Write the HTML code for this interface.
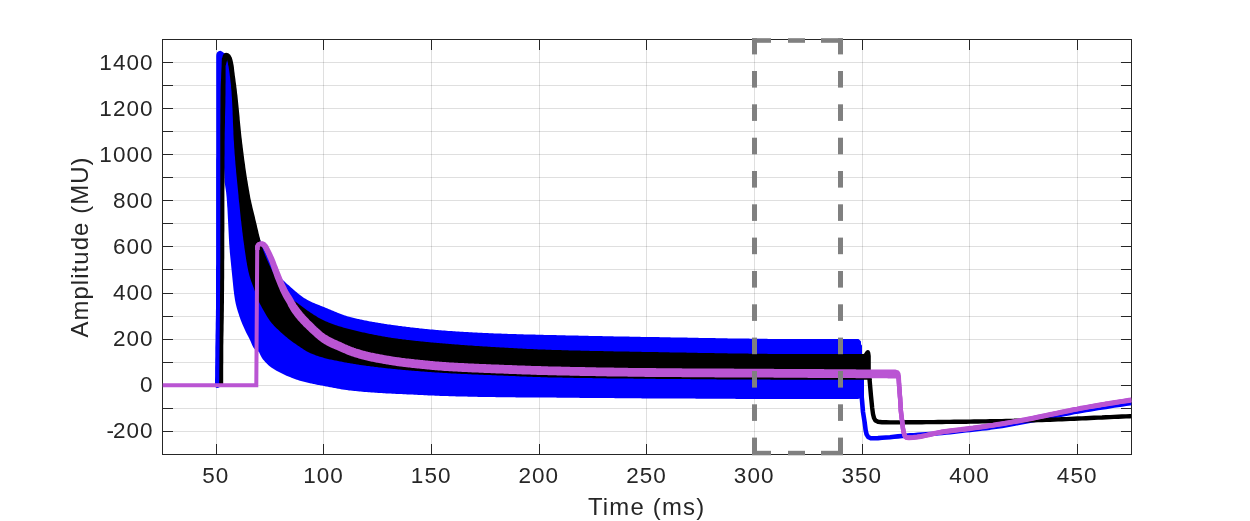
<!DOCTYPE html>
<html><head><meta charset="utf-8"><title>chart</title>
<style>
html,body{margin:0;padding:0;background:#fff;}
body{width:1250px;height:521px;position:relative;overflow:hidden;font-family:"Liberation Sans",sans-serif;color:#262626;}
.yt{position:absolute;left:40px;width:113.6px;height:30px;line-height:30px;text-align:right;font-size:22.5px;letter-spacing:1.05px;white-space:nowrap;}
.xt{position:absolute;top:460.8px;width:100px;height:30px;line-height:30px;text-align:center;font-size:22.5px;letter-spacing:1.05px;text-indent:1.05px;white-space:nowrap;}
.xl{position:absolute;left:446.6px;top:492px;width:400px;height:30px;line-height:30px;text-align:center;font-size:23.9px;letter-spacing:1.2px;white-space:nowrap;}
.yl{position:absolute;left:-120px;top:231.8px;width:400px;height:30px;line-height:30px;text-align:center;font-size:23.9px;letter-spacing:1.08px;white-space:nowrap;transform:rotate(-90deg);transform-origin:50% 50%;}
</style></head><body>
<svg width="1250" height="521" viewBox="0 0 1250 521" style="position:absolute;left:0;top:0">
<rect width="1250" height="521" fill="#fff"/>
<g fill="#262626" fill-opacity="0.15"><rect x="163" y="431" width="968" height="1"/><rect x="163" y="408" width="968" height="1"/><rect x="163" y="385" width="968" height="1"/><rect x="163" y="362" width="968" height="1"/><rect x="163" y="339" width="968" height="1"/><rect x="163" y="316" width="968" height="1"/><rect x="163" y="293" width="968" height="1"/><rect x="163" y="269" width="968" height="1"/><rect x="163" y="246" width="968" height="1"/><rect x="163" y="223" width="968" height="1"/><rect x="163" y="200" width="968" height="1"/><rect x="163" y="177" width="968" height="1"/><rect x="163" y="154" width="968" height="1"/><rect x="163" y="131" width="968" height="1"/><rect x="163" y="108" width="968" height="1"/><rect x="163" y="85" width="968" height="1"/><rect x="163" y="62" width="968" height="1"/><rect x="216" y="40" width="1" height="414"/><rect x="323" y="40" width="1" height="414"/><rect x="431" y="40" width="1" height="414"/><rect x="539" y="40" width="1" height="414"/><rect x="646" y="40" width="1" height="414"/><rect x="754" y="40" width="1" height="414"/><rect x="862" y="40" width="1" height="414"/><rect x="969" y="40" width="1" height="414"/><rect x="1077" y="40" width="1" height="414"/></g>
<g fill="#262626"><rect x="162" y="39" width="970" height="1"/><rect x="162" y="454" width="970" height="1"/><rect x="162" y="39" width="1" height="416"/><rect x="1131" y="39" width="1" height="416"/><rect x="162" y="431" width="11" height="1"/><rect x="1121" y="431" width="11" height="1"/><rect x="162" y="408" width="11" height="1"/><rect x="1121" y="408" width="11" height="1"/><rect x="162" y="385" width="11" height="1"/><rect x="1121" y="385" width="11" height="1"/><rect x="162" y="362" width="11" height="1"/><rect x="1121" y="362" width="11" height="1"/><rect x="162" y="339" width="11" height="1"/><rect x="1121" y="339" width="11" height="1"/><rect x="162" y="316" width="11" height="1"/><rect x="1121" y="316" width="11" height="1"/><rect x="162" y="293" width="11" height="1"/><rect x="1121" y="293" width="11" height="1"/><rect x="162" y="269" width="11" height="1"/><rect x="1121" y="269" width="11" height="1"/><rect x="162" y="246" width="11" height="1"/><rect x="1121" y="246" width="11" height="1"/><rect x="162" y="223" width="11" height="1"/><rect x="1121" y="223" width="11" height="1"/><rect x="162" y="200" width="11" height="1"/><rect x="1121" y="200" width="11" height="1"/><rect x="162" y="177" width="11" height="1"/><rect x="1121" y="177" width="11" height="1"/><rect x="162" y="154" width="11" height="1"/><rect x="1121" y="154" width="11" height="1"/><rect x="162" y="131" width="11" height="1"/><rect x="1121" y="131" width="11" height="1"/><rect x="162" y="108" width="11" height="1"/><rect x="1121" y="108" width="11" height="1"/><rect x="162" y="85" width="11" height="1"/><rect x="1121" y="85" width="11" height="1"/><rect x="162" y="62" width="11" height="1"/><rect x="1121" y="62" width="11" height="1"/><rect x="216" y="39" width="1" height="11"/><rect x="216" y="444" width="1" height="11"/><rect x="323" y="39" width="1" height="11"/><rect x="323" y="444" width="1" height="11"/><rect x="431" y="39" width="1" height="11"/><rect x="431" y="444" width="1" height="11"/><rect x="539" y="39" width="1" height="11"/><rect x="539" y="444" width="1" height="11"/><rect x="646" y="39" width="1" height="11"/><rect x="646" y="444" width="1" height="11"/><rect x="754" y="39" width="1" height="11"/><rect x="754" y="444" width="1" height="11"/><rect x="862" y="39" width="1" height="11"/><rect x="862" y="444" width="1" height="11"/><rect x="969" y="39" width="1" height="11"/><rect x="969" y="444" width="1" height="11"/><rect x="1077" y="39" width="1" height="11"/><rect x="1077" y="444" width="1" height="11"/></g>
<clipPath id="c"><rect x="162.5" y="37" width="969" height="419"/></clipPath>
<g clip-path="url(#c)">
<polygon fill="#0000ff" points="215.0,386.0 215.0,384.0 215.0,380.0 215.1,376.0 215.1,372.0 215.1,368.0 215.2,364.0 215.2,360.0 215.3,356.0 215.3,352.0 215.3,348.0 215.4,344.0 215.5,340.0 215.5,336.0 215.6,332.0 215.7,328.0 215.7,324.0 215.8,320.0 215.9,316.0 215.9,312.0 216.0,308.0 216.0,304.0 216.0,300.0 216.0,296.0 216.0,292.0 216.0,288.0 216.0,284.0 216.0,280.0 216.0,276.0 216.0,272.0 216.0,268.0 216.1,264.0 216.1,260.0 216.1,256.0 216.1,252.0 216.1,248.0 216.1,244.0 216.1,240.0 216.1,236.0 216.1,232.0 216.1,228.0 216.1,224.0 216.1,220.0 216.1,216.0 216.1,212.0 216.1,208.0 216.1,204.0 216.1,200.0 216.1,196.0 216.1,192.0 216.1,188.0 216.1,184.0 216.1,180.0 216.1,176.0 216.1,172.0 216.1,168.0 216.1,164.0 216.1,160.0 216.2,156.0 216.2,152.0 216.2,148.0 216.2,144.0 216.2,140.0 216.2,136.0 216.2,132.0 216.2,128.0 216.2,124.0 216.2,120.0 216.2,116.0 216.2,112.0 216.2,108.0 216.2,104.0 216.2,100.0 216.2,96.0 216.2,92.0 216.2,88.0 216.2,84.0 216.2,80.0 216.2,76.0 216.2,72.0 216.2,68.0 216.2,64.0 216.2,60.0 216.2,56.0 216.4,54.0 217.2,52.2 218.6,51.2 220.3,50.8 222.0,51.4 224.0,53.0 224.0,60.0 224.0,182.0 222.0,386.0 219.3,387.2 218.0,388.0 216.6,388.0 215.6,387.2 215.0,386.0"/>
<polygon fill="#0000ff" points="222.0,53.0 224.0,53.0 225.0,53.4 226.0,54.4 227.0,55.9 228.0,57.8 229.0,60.0 230.0,63.4 231.0,68.8 232.0,75.4 233.0,82.7 234.0,90.0 235.0,97.9 236.0,106.9 237.0,116.5 238.0,126.2 239.0,135.5 240.0,144.0 241.0,151.9 242.0,159.6 243.0,167.2 244.0,174.5 245.0,181.4 246.0,187.7 247.0,193.4 248.0,198.4 249.0,203.0 250.0,207.2 251.0,211.2 252.0,214.9 253.0,218.4 254.0,221.7 255.0,225.0 256.0,228.2 257.0,231.2 258.0,234.1 259.0,236.9 260.0,239.6 261.0,242.2 262.0,244.7 263.0,247.0 264.0,249.2 265.0,251.1 266.0,253.1 267.0,255.0 268.0,257.0 269.0,259.1 270.0,261.1 271.0,262.9 272.0,264.6 273.0,266.3 274.0,267.9 275.0,269.5 276.0,271.0 277.0,272.6 278.0,274.0 279.0,275.5 280.0,276.8 281.0,278.0 282.0,279.1 283.0,280.2 284.0,281.1 285.0,282.1 286.0,283.0 287.0,283.9 288.0,284.7 289.0,285.6 290.0,286.5 291.0,287.4 292.0,288.3 293.0,289.2 294.0,290.1 295.0,290.9 296.0,291.8 297.0,292.6 298.0,293.5 299.0,294.2 300.0,295.0 301.0,295.7 302.0,296.5 303.0,297.2 304.0,297.9 305.0,298.5 306.0,299.1 307.0,299.7 308.0,300.3 309.0,300.8 310.0,301.3 311.0,301.8 312.0,302.2 313.0,302.7 314.0,303.1 315.0,303.5 316.0,303.9 317.0,304.3 318.0,304.7 319.0,305.1 320.0,305.5 321.0,305.9 322.0,306.3 323.0,306.7 324.0,307.1 325.0,307.5 326.0,307.9 327.0,308.3 328.0,308.7 329.0,309.2 330.0,309.6 331.0,310.0 332.0,310.4 333.0,310.8 334.0,311.3 335.0,311.7 336.0,312.1 337.0,312.5 338.0,312.9 339.0,313.3 340.0,313.7 341.0,314.1 342.0,314.5 343.0,314.8 344.0,315.2 345.0,315.5 346.0,315.8 347.0,316.2 348.0,316.5 349.0,316.7 350.0,317.0 351.0,317.3 352.0,317.5 353.0,317.7 354.0,318.0 355.0,318.2 356.0,318.5 357.0,318.7 358.0,318.9 359.0,319.1 360.0,319.4 361.0,319.6 362.0,319.8 363.0,320.0 364.0,320.2 365.0,320.4 366.0,320.6 367.0,320.8 368.0,321.0 369.0,321.2 370.0,321.4 371.0,321.6 372.0,321.8 373.0,321.9 374.0,322.1 375.0,322.3 376.0,322.5 377.0,322.6 378.0,322.8 379.0,323.0 380.0,323.1 381.0,323.3 382.0,323.4 383.0,323.6 384.0,323.8 385.0,323.9 386.0,324.1 387.0,324.2 388.0,324.4 389.0,324.5 390.0,324.6 391.0,324.8 392.0,324.9 393.0,325.1 394.0,325.2 395.0,325.3 396.0,325.5 397.0,325.6 398.0,325.7 399.0,325.9 400.0,326.0 401.0,326.1 402.0,326.3 403.0,326.4 404.0,326.5 405.0,326.6 406.0,326.8 407.0,326.9 408.0,327.0 409.0,327.1 410.0,327.2 411.0,327.4 412.0,327.5 413.0,327.6 414.0,327.7 415.0,327.8 416.0,327.9 417.0,328.0 418.0,328.1 419.0,328.3 420.0,328.4 421.0,328.5 422.0,328.6 423.0,328.7 424.0,328.8 425.0,328.9 426.0,329.0 427.0,329.1 428.0,329.2 429.0,329.3 430.0,329.4 431.0,329.5 432.0,329.6 433.0,329.6 434.0,329.7 435.0,329.8 436.0,329.9 437.0,330.0 438.0,330.1 439.0,330.2 440.0,330.2 441.0,330.3 442.0,330.4 443.0,330.5 444.0,330.6 445.0,330.6 446.0,330.7 447.0,330.8 448.0,330.9 449.0,330.9 450.0,331.0 451.0,331.1 452.0,331.1 453.0,331.2 454.0,331.3 455.0,331.3 456.0,331.4 457.0,331.5 458.0,331.5 459.0,331.6 460.0,331.7 461.0,331.7 462.0,331.8 463.0,331.8 464.0,331.9 465.0,331.9 466.0,332.0 467.0,332.1 468.0,332.1 469.0,332.2 470.0,332.2 471.0,332.3 472.0,332.3 473.0,332.4 474.0,332.4 475.0,332.5 476.0,332.6 477.0,332.6 478.0,332.7 479.0,332.7 480.0,332.8 481.0,332.8 482.0,332.8 483.0,332.9 484.0,332.9 485.0,333.0 486.0,333.0 487.0,333.1 488.0,333.1 489.0,333.2 490.0,333.2 491.0,333.2 492.0,333.3 493.0,333.3 494.0,333.4 495.0,333.4 496.0,333.4 497.0,333.5 498.0,333.5 499.0,333.6 500.0,333.6 501.0,333.6 502.0,333.7 503.0,333.7 504.0,333.7 505.0,333.8 506.0,333.8 507.0,333.8 508.0,333.9 509.0,333.9 510.0,333.9 511.0,334.0 512.0,334.0 513.0,334.0 514.0,334.1 515.0,334.1 516.0,334.1 517.0,334.2 518.0,334.2 519.0,334.2 520.0,334.2 521.0,334.3 522.0,334.3 523.0,334.3 524.0,334.4 525.0,334.4 526.0,334.4 527.0,334.4 528.0,334.5 529.0,334.5 530.0,334.5 531.0,334.5 532.0,334.6 533.0,334.6 534.0,334.6 535.0,334.6 536.0,334.7 537.0,334.7 538.0,334.7 539.0,334.7 540.0,334.8 541.0,334.8 542.0,334.8 543.0,334.8 544.0,334.9 545.0,334.9 546.0,334.9 547.0,334.9 548.0,335.0 549.0,335.0 550.0,335.0 551.0,335.0 552.0,335.0 553.0,335.1 554.0,335.1 555.0,335.1 556.0,335.1 557.0,335.2 558.0,335.2 559.0,335.2 560.0,335.2 561.0,335.3 562.0,335.3 563.0,335.3 564.0,335.3 565.0,335.3 566.0,335.4 567.0,335.4 568.0,335.4 569.0,335.4 570.0,335.5 571.0,335.5 572.0,335.5 573.0,335.5 574.0,335.5 575.0,335.6 576.0,335.6 577.0,335.6 578.0,335.6 579.0,335.7 580.0,335.7 581.0,335.7 582.0,335.7 583.0,335.7 584.0,335.8 585.0,335.8 586.0,335.8 587.0,335.8 588.0,335.8 589.0,335.9 590.0,335.9 591.0,335.9 592.0,335.9 593.0,336.0 594.0,336.0 595.0,336.0 596.0,336.0 597.0,336.0 598.0,336.1 599.0,336.1 600.0,336.1 601.0,336.1 602.0,336.1 603.0,336.2 604.0,336.2 605.0,336.2 606.0,336.2 607.0,336.2 608.0,336.3 609.0,336.3 610.0,336.3 611.0,336.3 612.0,336.3 613.0,336.3 614.0,336.4 615.0,336.4 616.0,336.4 617.0,336.4 618.0,336.4 619.0,336.5 620.0,336.5 621.0,336.5 622.0,336.5 623.0,336.5 624.0,336.6 625.0,336.6 626.0,336.6 627.0,336.6 628.0,336.6 629.0,336.6 630.0,336.7 631.0,336.7 632.0,336.7 633.0,336.7 634.0,336.7 635.0,336.7 636.0,336.8 637.0,336.8 638.0,336.8 639.0,336.8 640.0,336.8 641.0,336.9 642.0,336.9 643.0,336.9 644.0,336.9 645.0,336.9 646.0,336.9 647.0,337.0 648.0,337.0 649.0,337.0 650.0,337.0 651.0,337.0 652.0,337.0 653.0,337.0 654.0,337.1 655.0,337.1 656.0,337.1 657.0,337.1 658.0,337.1 659.0,337.1 660.0,337.2 661.0,337.2 662.0,337.2 663.0,337.2 664.0,337.2 665.0,337.3 666.0,337.3 667.0,337.3 668.0,337.3 669.0,337.3 670.0,337.3 671.0,337.4 672.0,337.4 673.0,337.4 674.0,337.4 675.0,337.4 676.0,337.4 677.0,337.5 678.0,337.5 679.0,337.5 680.0,337.5 681.0,337.5 682.0,337.6 683.0,337.6 684.0,337.6 685.0,337.6 686.0,337.6 687.0,337.6 688.0,337.7 689.0,337.7 690.0,337.7 691.0,337.7 692.0,337.7 693.0,337.8 694.0,337.8 695.0,337.8 696.0,337.8 697.0,337.8 698.0,337.8 699.0,337.9 700.0,337.9 701.0,337.9 702.0,337.9 703.0,337.9 704.0,337.9 705.0,338.0 706.0,338.0 707.0,338.0 708.0,338.0 709.0,338.0 710.0,338.1 711.0,338.1 712.0,338.1 713.0,338.1 714.0,338.1 715.0,338.1 716.0,338.2 717.0,338.2 718.0,338.2 719.0,338.2 720.0,338.2 721.0,338.2 722.0,338.3 723.0,338.3 724.0,338.3 725.0,338.3 726.0,338.3 727.0,338.3 728.0,338.4 729.0,338.4 730.0,338.4 731.0,338.4 732.0,338.4 733.0,338.4 734.0,338.4 735.0,338.5 736.0,338.5 737.0,338.5 738.0,338.5 739.0,338.5 740.0,338.5 741.0,338.5 742.0,338.6 743.0,338.6 744.0,338.6 745.0,338.6 746.0,338.6 747.0,338.6 748.0,338.6 749.0,338.6 750.0,338.7 751.0,338.7 752.0,338.7 753.0,338.7 754.0,338.7 755.0,338.7 756.0,338.7 757.0,338.7 758.0,338.8 759.0,338.8 760.0,338.8 761.0,338.8 762.0,338.8 763.0,338.8 764.0,338.8 765.0,338.8 766.0,338.8 767.0,338.8 768.0,338.9 769.0,338.9 770.0,338.9 771.0,338.9 772.0,338.9 773.0,338.9 774.0,338.9 775.0,338.9 776.0,338.9 777.0,338.9 778.0,338.9 779.0,338.9 780.0,338.9 781.0,338.9 782.0,339.0 783.0,339.0 784.0,339.0 785.0,339.0 786.0,339.0 787.0,339.0 788.0,339.0 789.0,339.0 790.0,339.0 791.0,339.0 792.0,339.0 793.0,339.0 794.0,339.0 795.0,339.0 796.0,339.0 797.0,339.0 798.0,339.0 799.0,339.0 800.0,339.0 801.0,339.0 802.0,339.0 803.0,339.0 804.0,339.0 805.0,339.0 806.0,339.0 807.0,339.0 808.0,339.0 809.0,339.0 810.0,339.0 811.0,339.0 812.0,339.0 813.0,339.0 814.0,339.0 815.0,339.0 816.0,339.0 817.0,339.0 818.0,339.0 819.0,339.0 820.0,339.0 821.0,339.0 822.0,339.0 823.0,339.0 824.0,339.0 825.0,339.0 826.0,339.0 827.0,339.0 828.0,339.0 829.0,339.0 830.0,339.0 831.0,339.0 832.0,339.0 833.0,339.0 834.0,339.0 835.0,339.0 836.0,339.0 837.0,339.0 838.0,339.0 839.0,339.0 840.0,339.0 841.0,339.0 842.0,339.0 843.0,339.0 844.0,339.0 845.0,339.0 846.0,339.0 847.0,339.0 848.0,339.0 849.0,339.0 850.0,339.0 851.0,339.0 852.0,339.0 853.0,339.0 854.0,339.0 855.0,339.0 856.0,339.0 857.0,339.0 858.0,339.0 858.5,339.0 860.9,341.3 861.1,344.6 862.0,345.6 862.0,354.0 864.0,366.0 864.0,397.0 858.0,399.0 855.0,399.0 854.0,399.0 853.0,399.0 852.0,399.0 851.0,399.0 850.0,399.0 849.0,399.0 848.0,399.0 847.0,399.0 846.0,399.0 845.0,399.0 844.0,399.0 843.0,399.0 842.0,399.0 841.0,399.0 840.0,399.0 839.0,399.0 838.0,399.0 837.0,399.0 836.0,399.0 835.0,399.0 834.0,399.0 833.0,399.0 832.0,399.0 831.0,399.0 830.0,399.0 829.0,399.0 828.0,399.0 827.0,399.0 826.0,399.0 825.0,399.0 824.0,399.0 823.0,399.0 822.0,399.0 821.0,399.0 820.0,399.0 819.0,399.0 818.0,399.0 817.0,399.0 816.0,399.0 815.0,399.0 814.0,399.0 813.0,399.0 812.0,399.0 811.0,399.0 810.0,399.0 809.0,399.0 808.0,399.0 807.0,399.0 806.0,399.0 805.0,399.0 804.0,399.0 803.0,399.0 802.0,399.0 801.0,399.0 800.0,399.0 799.0,399.0 798.0,399.0 797.0,399.0 796.0,399.0 795.0,399.0 794.0,399.0 793.0,399.0 792.0,399.0 791.0,399.0 790.0,399.0 789.0,399.0 788.0,399.0 787.0,399.0 786.0,399.0 785.0,399.0 784.0,399.0 783.0,399.0 782.0,399.0 781.0,399.0 780.0,399.0 779.0,399.0 778.0,399.0 777.0,399.0 776.0,399.0 775.0,399.0 774.0,399.0 773.0,399.0 772.0,399.0 771.0,399.0 770.0,399.0 769.0,399.0 768.0,399.0 767.0,399.0 766.0,399.0 765.0,399.0 764.0,398.9 763.0,398.9 762.0,398.9 761.0,398.9 760.0,398.9 759.0,398.9 758.0,398.9 757.0,398.9 756.0,398.9 755.0,398.9 754.0,398.9 753.0,398.9 752.0,398.9 751.0,398.9 750.0,398.9 749.0,398.9 748.0,398.9 747.0,398.9 746.0,398.9 745.0,398.9 744.0,398.9 743.0,398.9 742.0,398.9 741.0,398.9 740.0,398.9 739.0,398.9 738.0,398.9 737.0,398.9 736.0,398.9 735.0,398.8 734.0,398.8 733.0,398.8 732.0,398.8 731.0,398.8 730.0,398.8 729.0,398.8 728.0,398.8 727.0,398.8 726.0,398.8 725.0,398.8 724.0,398.8 723.0,398.8 722.0,398.8 721.0,398.8 720.0,398.8 719.0,398.8 718.0,398.8 717.0,398.8 716.0,398.8 715.0,398.8 714.0,398.7 713.0,398.7 712.0,398.7 711.0,398.7 710.0,398.7 709.0,398.7 708.0,398.7 707.0,398.7 706.0,398.7 705.0,398.7 704.0,398.7 703.0,398.7 702.0,398.7 701.0,398.7 700.0,398.7 699.0,398.7 698.0,398.7 697.0,398.7 696.0,398.7 695.0,398.6 694.0,398.6 693.0,398.6 692.0,398.6 691.0,398.6 690.0,398.6 689.0,398.6 688.0,398.6 687.0,398.6 686.0,398.6 685.0,398.6 684.0,398.6 683.0,398.6 682.0,398.6 681.0,398.6 680.0,398.6 679.0,398.6 678.0,398.6 677.0,398.6 676.0,398.5 675.0,398.5 674.0,398.5 673.0,398.5 672.0,398.5 671.0,398.5 670.0,398.5 669.0,398.5 668.0,398.5 667.0,398.5 666.0,398.5 665.0,398.5 664.0,398.5 663.0,398.5 662.0,398.5 661.0,398.5 660.0,398.5 659.0,398.4 658.0,398.4 657.0,398.4 656.0,398.4 655.0,398.4 654.0,398.4 653.0,398.4 652.0,398.4 651.0,398.4 650.0,398.4 649.0,398.4 648.0,398.4 647.0,398.4 646.0,398.4 645.0,398.4 644.0,398.4 643.0,398.4 642.0,398.4 641.0,398.3 640.0,398.3 639.0,398.3 638.0,398.3 637.0,398.3 636.0,398.3 635.0,398.3 634.0,398.3 633.0,398.3 632.0,398.3 631.0,398.3 630.0,398.3 629.0,398.3 628.0,398.3 627.0,398.3 626.0,398.2 625.0,398.2 624.0,398.2 623.0,398.2 622.0,398.2 621.0,398.2 620.0,398.2 619.0,398.2 618.0,398.2 617.0,398.2 616.0,398.2 615.0,398.2 614.0,398.1 613.0,398.1 612.0,398.1 611.0,398.1 610.0,398.1 609.0,398.1 608.0,398.1 607.0,398.1 606.0,398.1 605.0,398.1 604.0,398.1 603.0,398.1 602.0,398.0 601.0,398.0 600.0,398.0 599.0,398.0 598.0,398.0 597.0,398.0 596.0,398.0 595.0,398.0 594.0,398.0 593.0,398.0 592.0,398.0 591.0,398.0 590.0,397.9 589.0,397.9 588.0,397.9 587.0,397.9 586.0,397.9 585.0,397.9 584.0,397.9 583.0,397.9 582.0,397.9 581.0,397.9 580.0,397.9 579.0,397.8 578.0,397.8 577.0,397.8 576.0,397.8 575.0,397.8 574.0,397.8 573.0,397.8 572.0,397.8 571.0,397.8 570.0,397.8 569.0,397.8 568.0,397.8 567.0,397.7 566.0,397.7 565.0,397.7 564.0,397.7 563.0,397.7 562.0,397.7 561.0,397.7 560.0,397.7 559.0,397.7 558.0,397.7 557.0,397.7 556.0,397.6 555.0,397.6 554.0,397.6 553.0,397.6 552.0,397.6 551.0,397.6 550.0,397.6 549.0,397.6 548.0,397.6 547.0,397.6 546.0,397.6 545.0,397.6 544.0,397.6 543.0,397.5 542.0,397.5 541.0,397.5 540.0,397.5 539.0,397.5 538.0,397.5 537.0,397.5 536.0,397.5 535.0,397.5 534.0,397.5 533.0,397.5 532.0,397.5 531.0,397.5 530.0,397.5 529.0,397.4 528.0,397.4 527.0,397.4 526.0,397.4 525.0,397.4 524.0,397.4 523.0,397.4 522.0,397.4 521.0,397.4 520.0,397.4 519.0,397.4 518.0,397.4 517.0,397.4 516.0,397.4 515.0,397.3 514.0,397.3 513.0,397.3 512.0,397.3 511.0,397.3 510.0,397.3 509.0,397.3 508.0,397.3 507.0,397.3 506.0,397.3 505.0,397.3 504.0,397.2 503.0,397.2 502.0,397.2 501.0,397.2 500.0,397.2 499.0,397.2 498.0,397.2 497.0,397.2 496.0,397.2 495.0,397.1 494.0,397.1 493.0,397.1 492.0,397.1 491.0,397.1 490.0,397.1 489.0,397.1 488.0,397.0 487.0,397.0 486.0,397.0 485.0,397.0 484.0,397.0 483.0,397.0 482.0,396.9 481.0,396.9 480.0,396.9 479.0,396.9 478.0,396.9 477.0,396.8 476.0,396.8 475.0,396.8 474.0,396.8 473.0,396.8 472.0,396.7 471.0,396.7 470.0,396.7 469.0,396.7 468.0,396.7 467.0,396.6 466.0,396.6 465.0,396.6 464.0,396.6 463.0,396.5 462.0,396.5 461.0,396.5 460.0,396.5 459.0,396.4 458.0,396.4 457.0,396.4 456.0,396.4 455.0,396.3 454.0,396.3 453.0,396.3 452.0,396.3 451.0,396.2 450.0,396.2 449.0,396.2 448.0,396.1 447.0,396.1 446.0,396.1 445.0,396.0 444.0,396.0 443.0,396.0 442.0,395.9 441.0,395.9 440.0,395.9 439.0,395.8 438.0,395.8 437.0,395.7 436.0,395.7 435.0,395.7 434.0,395.6 433.0,395.6 432.0,395.5 431.0,395.5 430.0,395.4 429.0,395.4 428.0,395.4 427.0,395.3 426.0,395.3 425.0,395.2 424.0,395.2 423.0,395.1 422.0,395.1 421.0,395.0 420.0,395.0 419.0,394.9 418.0,394.9 417.0,394.8 416.0,394.8 415.0,394.7 414.0,394.7 413.0,394.6 412.0,394.6 411.0,394.5 410.0,394.5 409.0,394.5 408.0,394.4 407.0,394.4 406.0,394.3 405.0,394.3 404.0,394.2 403.0,394.2 402.0,394.1 401.0,394.1 400.0,394.0 399.0,394.0 398.0,394.0 397.0,393.9 396.0,393.9 395.0,393.8 394.0,393.8 393.0,393.7 392.0,393.7 391.0,393.6 390.0,393.6 389.0,393.5 388.0,393.5 387.0,393.4 386.0,393.4 385.0,393.3 384.0,393.2 383.0,393.2 382.0,393.1 381.0,393.1 380.0,393.0 379.0,392.9 378.0,392.9 377.0,392.8 376.0,392.7 375.0,392.7 374.0,392.6 373.0,392.5 372.0,392.5 371.0,392.4 370.0,392.3 369.0,392.3 368.0,392.2 367.0,392.1 366.0,392.0 365.0,391.9 364.0,391.9 363.0,391.8 362.0,391.7 361.0,391.6 360.0,391.5 359.0,391.4 358.0,391.3 357.0,391.2 356.0,391.1 355.0,391.0 354.0,390.9 353.0,390.8 352.0,390.7 351.0,390.6 350.0,390.5 349.0,390.4 348.0,390.3 347.0,390.1 346.0,390.0 345.0,389.8 344.0,389.7 343.0,389.5 342.0,389.4 341.0,389.2 340.0,389.0 339.0,388.8 338.0,388.7 337.0,388.5 336.0,388.3 335.0,388.1 334.0,387.9 333.0,387.7 332.0,387.5 331.0,387.3 330.0,387.2 329.0,387.0 328.0,386.8 327.0,386.6 326.0,386.4 325.0,386.2 324.0,386.0 323.0,385.8 322.0,385.6 321.0,385.4 320.0,385.3 319.0,385.1 318.0,384.9 317.0,384.7 316.0,384.5 315.0,384.3 314.0,384.1 313.0,383.9 312.0,383.6 311.0,383.4 310.0,383.2 309.0,383.0 308.0,382.7 307.0,382.5 306.0,382.3 305.0,382.0 304.0,381.8 303.0,381.5 302.0,381.3 301.0,381.0 300.0,380.7 299.0,380.4 298.0,380.1 297.0,379.7 296.0,379.4 295.0,379.0 294.0,378.7 293.0,378.3 292.0,377.9 291.0,377.5 290.0,377.1 289.0,376.7 288.0,376.3 287.0,375.9 286.0,375.4 285.0,375.0 284.0,374.5 283.0,374.1 282.0,373.6 281.0,373.1 280.0,372.6 279.0,372.1 278.0,371.5 277.0,371.0 276.0,370.4 275.0,369.8 274.0,369.2 273.0,368.6 272.0,367.9 271.0,367.2 270.0,366.5 269.0,365.7 268.0,364.8 267.0,363.8 266.0,362.8 265.0,361.7 264.0,360.6 263.0,359.4 262.0,358.0 261.0,356.3 260.0,354.3 259.0,352.0 259.0,352.0 255.6,350.0 253.7,348.0 252.6,346.0 251.7,344.0 250.9,342.0 250.0,340.0 249.0,338.0 248.0,336.0 246.9,334.0 245.9,332.0 245.0,330.0 244.1,328.0 243.2,326.0 242.3,324.0 241.5,322.0 240.7,320.0 240.0,318.0 239.3,316.0 238.7,314.0 238.0,312.0 237.4,310.0 236.8,308.0 236.3,306.0 235.8,304.0 235.4,302.0 235.0,300.0 234.7,298.0 234.4,296.0 234.1,294.0 233.9,292.0 233.6,290.0 233.4,288.0 233.2,286.0 233.0,284.0 232.8,282.0 232.6,280.0 232.4,278.0 232.2,276.0 232.0,274.0 231.8,272.0 231.6,270.0 231.4,268.0 231.2,266.0 231.0,264.0 230.8,262.0 230.6,260.0 230.4,258.0 230.2,256.0 230.0,254.0 229.8,252.0 229.7,250.0 229.5,248.0 229.4,246.0 229.2,244.0 229.1,242.0 229.0,240.0 228.9,238.0 228.8,236.0 228.7,234.0 228.6,232.0 228.5,230.0 228.4,228.0 228.3,226.0 228.2,224.0 228.1,222.0 228.0,220.0 227.9,218.0 227.8,216.0 227.7,214.0 227.6,212.0 227.5,210.0 227.4,208.0 227.2,206.0 227.1,204.0 227.0,202.0 226.8,200.0 226.7,198.0 226.5,196.0 226.3,194.0 226.1,192.0 225.8,190.0 225.5,188.0 225.2,186.0 224.9,184.0 224.6,182.0 224.6,182.0 222.0,120.0"/>
<polyline fill="none" stroke="#0000ff" stroke-width="4.6" stroke-linejoin="round" points="861.6,396.0 862.0,400.0 863.0,412.0 864.6,422.0 865.6,430.0 866.6,434.4 868.1,436.9 870.3,438.1 874.0,438.3 878.0,438.1 882.0,437.8 886.0,437.5 890.0,437.2 894.0,436.8 898.0,436.4 902.0,436.0 906.0,435.7 910.0,435.4 914.0,435.2 918.0,434.9 922.0,434.6 926.0,434.3 930.0,434.0 934.0,433.7 938.0,433.3 942.0,432.9 946.0,432.5 950.0,432.1 954.0,431.7 958.0,431.2 962.0,430.8 966.0,430.3 970.0,429.9 974.0,429.5 978.0,429.0 982.0,428.5 986.0,428.1 990.0,427.6 994.0,427.0 998.0,426.5 1002.0,425.9 1006.0,425.2 1010.0,424.5 1014.0,423.8 1018.0,423.0 1022.0,422.3 1026.0,421.5 1030.0,420.7 1034.0,420.0 1038.0,419.2 1042.0,418.4 1046.0,417.6 1050.0,416.8 1054.0,416.0 1058.0,415.2 1062.0,414.4 1066.0,413.7 1070.0,412.9 1074.0,412.1 1078.0,411.4 1082.0,410.7 1086.0,410.0 1090.0,409.4 1094.0,408.8 1098.0,408.1 1102.0,407.5 1106.0,406.9 1110.0,406.2 1114.0,405.6 1118.0,405.0 1122.0,404.4 1126.0,403.8 1130.0,403.2 1131.5,403.0"/>
<polygon fill="#000" points="219.2,386.0 219.2,382.0 219.3,378.0 219.3,374.0 219.3,370.0 219.4,366.0 219.4,362.0 219.4,358.0 219.5,354.0 219.5,350.0 219.6,346.0 219.6,342.0 219.6,338.0 219.7,334.0 219.7,330.0 219.8,326.0 219.8,322.0 219.8,318.0 219.9,314.0 219.9,310.0 220.0,306.0 220.0,302.0 220.0,298.0 220.0,294.0 220.1,290.0 220.1,286.0 220.1,282.0 220.2,278.0 220.2,274.0 220.2,270.0 220.2,266.0 220.3,262.0 220.3,258.0 220.3,254.0 220.3,250.0 220.3,246.0 220.3,242.0 220.3,238.0 220.3,234.0 220.3,230.0 220.3,226.0 220.3,222.0 220.3,218.0 220.3,214.0 220.3,210.0 220.3,206.0 220.3,202.0 220.3,198.0 220.3,194.0 220.3,190.0 220.3,186.0 220.3,182.0 220.3,178.0 220.3,174.0 220.3,170.0 220.3,166.0 220.3,162.0 220.3,158.0 220.3,154.0 220.3,150.0 220.3,146.0 220.3,142.0 220.3,138.0 220.3,134.0 220.3,130.0 220.3,126.0 220.4,122.0 220.4,118.0 220.4,114.0 220.4,110.0 220.5,106.0 220.5,102.0 220.5,98.0 220.6,94.0 220.6,90.0 220.7,86.0 220.9,82.0 221.1,78.0 221.2,74.0 221.4,70.0 221.6,66.0 221.7,62.0 221.9,58.0 222.2,58.0 222.8,55.5 224.0,53.6 226.0,52.8 228.3,53.2 230.2,54.8 231.6,57.3 231.6,57.3 228.5,66.0 227.3,59.5 225.6,66.0 225.6,70.0 225.6,74.0 225.6,78.0 225.6,82.0 225.5,86.0 225.5,90.0 225.5,94.0 225.4,98.0 225.4,102.0 225.3,106.0 225.2,110.0 225.1,114.0 225.0,118.0 225.0,122.0 224.9,126.0 224.8,130.0 224.7,134.0 224.7,138.0 224.6,142.0 224.6,146.0 224.6,150.0 224.6,154.0 224.5,158.0 224.5,162.0 224.5,166.0 224.5,170.0 224.5,174.0 224.5,178.0 224.5,182.0 224.5,186.0 224.4,190.0 224.4,194.0 224.4,198.0 224.4,202.0 224.4,206.0 224.4,210.0 224.4,214.0 224.4,218.0 224.4,222.0 224.4,226.0 224.4,230.0 224.3,234.0 224.3,238.0 224.3,242.0 224.3,246.0 224.3,250.0 224.3,254.0 224.3,258.0 224.2,262.0 224.2,266.0 224.2,270.0 224.2,274.0 224.2,278.0 224.1,282.0 224.1,286.0 224.1,290.0 224.0,294.0 224.0,298.0 224.0,302.0 223.9,306.0 223.9,310.0 223.8,314.0 223.8,318.0 223.7,322.0 223.6,326.0 223.6,330.0 223.5,334.0 223.4,338.0 223.4,342.0 223.3,346.0 223.3,350.0 223.3,354.0 223.3,358.0 223.3,362.0 223.2,366.0 223.2,370.0 223.2,374.0 223.2,378.0 223.2,382.0 223.2,386.0"/>
<polygon fill="#000" points="227.3,59.5 227.7,61.5 228.1,63.5 228.4,65.5 228.7,67.5 229.0,69.5 229.3,71.5 229.6,73.5 229.8,75.5 230.1,77.5 230.3,79.5 230.5,81.5 230.8,83.5 231.0,85.5 231.1,87.5 231.3,89.5 231.5,91.5 231.6,93.5 231.7,95.5 231.9,97.5 232.0,99.5 232.1,101.5 232.2,103.5 232.3,105.5 232.4,107.5 232.5,109.5 232.6,111.5 232.6,113.5 232.7,115.5 232.8,117.5 232.9,119.5 232.9,121.5 233.0,123.5 233.1,125.5 233.2,127.5 233.3,129.5 233.4,131.5 233.4,133.5 233.5,135.5 233.6,137.5 233.7,139.5 233.9,141.5 234.0,143.5 234.1,145.5 234.2,147.5 234.4,149.5 234.5,151.5 234.6,153.5 234.8,155.5 235.0,157.5 235.1,159.5 235.3,161.5 235.4,163.5 235.6,165.5 235.8,167.5 236.0,169.5 236.1,171.5 236.3,173.5 236.5,175.5 236.7,177.5 236.9,179.5 237.1,181.5 237.3,183.5 237.5,185.5 237.7,187.5 237.9,189.5 238.1,191.5 238.3,193.5 238.5,195.5 238.6,197.5 238.8,199.5 239.0,201.5 239.3,203.5 239.5,205.5 239.7,207.5 239.9,209.5 240.1,211.5 240.3,213.5 240.5,215.5 240.7,217.5 240.9,219.5 241.2,221.5 241.4,223.5 241.6,225.5 241.9,227.5 242.1,229.5 242.3,231.5 242.6,233.5 242.8,235.5 243.1,237.5 243.3,239.5 243.6,241.5 243.9,243.5 244.2,245.5 244.4,247.5 244.7,249.5 245.0,251.5 245.3,253.5 245.6,255.5 245.9,257.5 246.2,259.5 246.5,261.5 246.9,263.5 247.2,265.5 247.6,267.5 248.0,269.5 248.4,271.5 248.9,273.5 249.4,275.5 250.0,277.5 250.6,279.5 251.3,281.5 252.1,283.5 252.8,285.5 253.6,287.5 254.3,289.5 255.0,291.5 255.8,293.5 256.5,295.5 257.3,297.5 258.0,299.5 258.8,301.5 259.0,302.0 260.0,303.9 261.0,305.8 262.0,307.7 263.0,309.5 264.0,311.3 265.0,313.0 266.0,314.7 267.0,316.4 268.0,318.1 269.0,319.6 270.0,321.0 271.0,322.3 272.0,323.5 273.0,324.6 274.0,325.7 275.0,326.7 276.0,327.7 277.0,328.7 278.0,329.6 279.0,330.6 280.0,331.5 281.0,332.4 282.0,333.3 283.0,334.2 284.0,335.1 285.0,336.0 286.0,336.8 287.0,337.6 288.0,338.4 289.0,339.2 290.0,340.0 291.0,340.8 292.0,341.5 293.0,342.2 294.0,342.9 295.0,343.6 296.0,344.3 297.0,345.0 298.0,345.7 299.0,346.3 300.0,347.0 301.0,347.7 302.0,348.3 303.0,349.0 304.0,349.7 305.0,350.3 306.0,350.9 307.0,351.5 308.0,352.0 309.0,352.5 310.0,352.9 311.0,353.4 312.0,353.8 313.0,354.2 314.0,354.6 315.0,355.0 316.0,355.4 317.0,355.7 318.0,356.1 319.0,356.4 320.0,356.7 321.0,357.0 322.0,357.3 323.0,357.6 324.0,357.9 325.0,358.2 326.0,358.5 327.0,358.7 328.0,358.9 329.0,359.2 330.0,359.4 331.0,359.6 332.0,359.8 333.0,360.0 334.0,360.2 335.0,360.4 336.0,360.6 337.0,360.8 338.0,361.0 339.0,361.2 340.0,361.4 341.0,361.6 342.0,361.8 343.0,362.0 344.0,362.2 345.0,362.4 346.0,362.6 347.0,362.8 348.0,363.0 349.0,363.1 350.0,363.3 351.0,363.5 352.0,363.6 353.0,363.8 354.0,363.9 355.0,364.1 356.0,364.3 357.0,364.4 358.0,364.6 359.0,364.7 360.0,364.9 361.0,365.0 362.0,365.2 363.0,365.3 364.0,365.4 365.0,365.6 366.0,365.7 367.0,365.9 368.0,366.0 369.0,366.1 370.0,366.3 371.0,366.4 372.0,366.5 373.0,366.6 374.0,366.8 375.0,366.9 376.0,367.0 377.0,367.1 378.0,367.3 379.0,367.4 380.0,367.5 381.0,367.6 382.0,367.7 383.0,367.8 384.0,368.0 385.0,368.1 386.0,368.2 387.0,368.3 388.0,368.4 389.0,368.5 390.0,368.6 391.0,368.7 392.0,368.8 393.0,368.9 394.0,369.0 395.0,369.1 396.0,369.2 397.0,369.3 398.0,369.4 399.0,369.5 400.0,369.6 401.0,369.7 402.0,369.8 403.0,369.9 404.0,370.0 405.0,370.1 406.0,370.2 407.0,370.2 408.0,370.3 409.0,370.4 410.0,370.5 411.0,370.6 412.0,370.7 413.0,370.7 414.0,370.8 415.0,370.9 416.0,371.0 417.0,371.1 418.0,371.1 419.0,371.2 420.0,371.3 421.0,371.4 422.0,371.5 423.0,371.5 424.0,371.6 425.0,371.7 426.0,371.8 427.0,371.8 428.0,371.9 429.0,372.0 430.0,372.0 431.0,372.1 432.0,372.2 433.0,372.3 434.0,372.3 435.0,372.4 436.0,372.5 437.0,372.5 438.0,372.6 439.0,372.6 440.0,372.7 441.0,372.8 442.0,372.8 443.0,372.9 444.0,373.0 445.0,373.0 446.0,373.1 447.0,373.1 448.0,373.2 449.0,373.2 450.0,373.3 451.0,373.4 452.0,373.4 453.0,373.5 454.0,373.5 455.0,373.6 456.0,373.6 457.0,373.7 458.0,373.7 459.0,373.8 460.0,373.8 461.0,373.9 462.0,373.9 463.0,374.0 464.0,374.0 465.0,374.0 466.0,374.1 467.0,374.1 468.0,374.2 469.0,374.2 470.0,374.3 471.0,374.3 472.0,374.4 473.0,374.4 474.0,374.4 475.0,374.5 476.0,374.5 477.0,374.6 478.0,374.6 479.0,374.7 480.0,374.7 481.0,374.7 482.0,374.8 483.0,374.8 484.0,374.9 485.0,374.9 486.0,374.9 487.0,375.0 488.0,375.0 489.0,375.1 490.0,375.1 491.0,375.1 492.0,375.2 493.0,375.2 494.0,375.3 495.0,375.3 496.0,375.3 497.0,375.4 498.0,375.4 499.0,375.5 500.0,375.5 501.0,375.5 502.0,375.6 503.0,375.6 504.0,375.7 505.0,375.7 506.0,375.8 507.0,375.8 508.0,375.8 509.0,375.9 510.0,375.9 511.0,376.0 512.0,376.0 513.0,376.1 514.0,376.1 515.0,376.1 516.0,376.2 517.0,376.2 518.0,376.3 519.0,376.3 520.0,376.4 521.0,376.4 522.0,376.4 523.0,376.5 524.0,376.5 525.0,376.6 526.0,376.6 527.0,376.7 528.0,376.7 529.0,376.7 530.0,376.8 531.0,376.8 532.0,376.8 533.0,376.9 534.0,376.9 535.0,377.0 536.0,377.0 537.0,377.0 538.0,377.1 539.0,377.1 540.0,377.1 541.0,377.2 542.0,377.2 543.0,377.2 544.0,377.3 545.0,377.3 546.0,377.3 547.0,377.3 548.0,377.4 549.0,377.4 550.0,377.4 551.0,377.4 552.0,377.4 553.0,377.5 554.0,377.5 555.0,377.5 556.0,377.5 557.0,377.5 558.0,377.6 559.0,377.6 560.0,377.6 561.0,377.6 562.0,377.6 563.0,377.7 564.0,377.7 565.0,377.7 566.0,377.7 567.0,377.7 568.0,377.8 569.0,377.8 570.0,377.8 571.0,377.8 572.0,377.8 573.0,377.8 574.0,377.9 575.0,377.9 576.0,377.9 577.0,377.9 578.0,377.9 579.0,377.9 580.0,378.0 581.0,378.0 582.0,378.0 583.0,378.0 584.0,378.0 585.0,378.0 586.0,378.1 587.0,378.1 588.0,378.1 589.0,378.1 590.0,378.1 591.0,378.1 592.0,378.1 593.0,378.2 594.0,378.2 595.0,378.2 596.0,378.2 597.0,378.2 598.0,378.2 599.0,378.2 600.0,378.3 601.0,378.3 602.0,378.3 603.0,378.3 604.0,378.3 605.0,378.3 606.0,378.3 607.0,378.4 608.0,378.4 609.0,378.4 610.0,378.4 611.0,378.4 612.0,378.4 613.0,378.4 614.0,378.4 615.0,378.4 616.0,378.5 617.0,378.5 618.0,378.5 619.0,378.5 620.0,378.5 621.0,378.5 622.0,378.5 623.0,378.5 624.0,378.6 625.0,378.6 626.0,378.6 627.0,378.6 628.0,378.6 629.0,378.6 630.0,378.6 631.0,378.6 632.0,378.6 633.0,378.6 634.0,378.7 635.0,378.7 636.0,378.7 637.0,378.7 638.0,378.7 639.0,378.7 640.0,378.7 641.0,378.7 642.0,378.7 643.0,378.7 644.0,378.7 645.0,378.8 646.0,378.8 647.0,378.8 648.0,378.8 649.0,378.8 650.0,378.8 651.0,378.8 652.0,378.8 653.0,378.8 654.0,378.8 655.0,378.8 656.0,378.9 657.0,378.9 658.0,378.9 659.0,378.9 660.0,378.9 661.0,378.9 662.0,378.9 663.0,378.9 664.0,378.9 665.0,378.9 666.0,378.9 667.0,378.9 668.0,379.0 669.0,379.0 670.0,379.0 671.0,379.0 672.0,379.0 673.0,379.0 674.0,379.0 675.0,379.0 676.0,379.0 677.0,379.0 678.0,379.0 679.0,379.1 680.0,379.1 681.0,379.1 682.0,379.1 683.0,379.1 684.0,379.1 685.0,379.1 686.0,379.1 687.0,379.1 688.0,379.1 689.0,379.1 690.0,379.1 691.0,379.2 692.0,379.2 693.0,379.2 694.0,379.2 695.0,379.2 696.0,379.2 697.0,379.2 698.0,379.2 699.0,379.2 700.0,379.2 701.0,379.2 702.0,379.2 703.0,379.2 704.0,379.3 705.0,379.3 706.0,379.3 707.0,379.3 708.0,379.3 709.0,379.3 710.0,379.3 711.0,379.3 712.0,379.3 713.0,379.3 714.0,379.3 715.0,379.3 716.0,379.3 717.0,379.4 718.0,379.4 719.0,379.4 720.0,379.4 721.0,379.4 722.0,379.4 723.0,379.4 724.0,379.4 725.0,379.4 726.0,379.4 727.0,379.4 728.0,379.4 729.0,379.4 730.0,379.4 731.0,379.5 732.0,379.5 733.0,379.5 734.0,379.5 735.0,379.5 736.0,379.5 737.0,379.5 738.0,379.5 739.0,379.5 740.0,379.5 741.0,379.5 742.0,379.5 743.0,379.5 744.0,379.5 745.0,379.5 746.0,379.5 747.0,379.5 748.0,379.6 749.0,379.6 750.0,379.6 751.0,379.6 752.0,379.6 753.0,379.6 754.0,379.6 755.0,379.6 756.0,379.6 757.0,379.6 758.0,379.6 759.0,379.6 760.0,379.6 761.0,379.6 762.0,379.6 763.0,379.6 764.0,379.6 765.0,379.6 766.0,379.6 767.0,379.6 768.0,379.6 769.0,379.6 770.0,379.6 771.0,379.7 772.0,379.7 773.0,379.7 774.0,379.7 775.0,379.7 776.0,379.7 777.0,379.7 778.0,379.7 779.0,379.7 780.0,379.7 781.0,379.7 782.0,379.7 783.0,379.7 784.0,379.7 785.0,379.7 786.0,379.7 787.0,379.7 788.0,379.7 789.0,379.7 790.0,379.7 791.0,379.7 792.0,379.7 793.0,379.7 794.0,379.7 795.0,379.7 796.0,379.7 797.0,379.7 798.0,379.7 799.0,379.7 800.0,379.7 801.0,379.7 802.0,379.7 803.0,379.7 804.0,379.7 805.0,379.7 806.0,379.7 807.0,379.7 808.0,379.7 809.0,379.7 810.0,379.7 811.0,379.7 812.0,379.7 813.0,379.7 814.0,379.7 815.0,379.7 816.0,379.7 817.0,379.7 818.0,379.7 819.0,379.7 820.0,379.7 821.0,379.7 822.0,379.7 823.0,379.7 824.0,379.7 825.0,379.7 826.0,379.7 827.0,379.7 828.0,379.7 829.0,379.7 830.0,379.7 831.0,379.7 832.0,379.7 833.0,379.7 834.0,379.7 835.0,379.7 836.0,379.7 837.0,379.7 838.0,379.7 839.0,379.7 840.0,379.7 841.0,379.7 842.0,379.7 843.0,379.7 844.0,379.7 845.0,379.7 846.0,379.7 847.0,379.7 848.0,379.7 849.0,379.7 850.0,379.7 851.0,379.7 852.0,379.7 853.0,379.7 854.0,379.7 855.0,379.7 856.0,379.7 857.0,379.7 858.0,379.7 859.0,379.7 860.0,379.7 861.0,379.7 862.0,379.7 863.0,379.7 864.0,379.7 865.0,379.7 866.0,379.7 867.0,379.7 868.0,379.7 870.8,379.6 870.8,356.0 870.3,352.5 869.3,350.6 868.0,350.0 866.8,350.2 865.5,351.5 864.2,353.5 863.5,354.0 863.0,354.0 862.0,354.0 861.0,354.0 860.0,354.0 859.0,354.0 858.0,354.0 857.0,354.0 856.0,354.0 855.0,354.0 854.0,354.0 853.0,354.0 852.0,354.0 851.0,354.0 850.0,354.0 849.0,354.0 848.0,354.0 847.0,354.0 846.0,354.0 845.0,354.0 844.0,354.0 843.0,354.0 842.0,354.0 841.0,354.0 840.0,354.0 839.0,354.0 838.0,354.0 837.0,354.0 836.0,354.0 835.0,354.0 834.0,354.0 833.0,354.0 832.0,354.0 831.0,354.0 830.0,354.0 829.0,354.0 828.0,354.0 827.0,354.0 826.0,354.0 825.0,354.0 824.0,354.0 823.0,354.0 822.0,354.0 821.0,354.0 820.0,354.0 819.0,354.0 818.0,354.0 817.0,354.0 816.0,354.0 815.0,354.0 814.0,354.0 813.0,354.0 812.0,354.0 811.0,354.0 810.0,354.0 809.0,354.0 808.0,354.0 807.0,354.0 806.0,354.0 805.0,354.0 804.0,354.0 803.0,354.0 802.0,354.0 801.0,354.0 800.0,354.0 799.0,354.0 798.0,354.0 797.0,354.0 796.0,354.0 795.0,354.0 794.0,354.0 793.0,354.0 792.0,354.0 791.0,354.0 790.0,354.0 789.0,354.0 788.0,354.0 787.0,354.0 786.0,354.0 785.0,354.0 784.0,354.0 783.0,354.0 782.0,354.0 781.0,353.9 780.0,353.9 779.0,353.9 778.0,353.9 777.0,353.9 776.0,353.9 775.0,353.9 774.0,353.9 773.0,353.9 772.0,353.9 771.0,353.9 770.0,353.9 769.0,353.9 768.0,353.9 767.0,353.8 766.0,353.8 765.0,353.8 764.0,353.8 763.0,353.8 762.0,353.8 761.0,353.8 760.0,353.8 759.0,353.8 758.0,353.8 757.0,353.7 756.0,353.7 755.0,353.7 754.0,353.7 753.0,353.7 752.0,353.7 751.0,353.7 750.0,353.7 749.0,353.7 748.0,353.6 747.0,353.6 746.0,353.6 745.0,353.6 744.0,353.6 743.0,353.6 742.0,353.6 741.0,353.6 740.0,353.5 739.0,353.5 738.0,353.5 737.0,353.5 736.0,353.5 735.0,353.5 734.0,353.5 733.0,353.4 732.0,353.4 731.0,353.4 730.0,353.4 729.0,353.4 728.0,353.4 727.0,353.3 726.0,353.3 725.0,353.3 724.0,353.3 723.0,353.3 722.0,353.3 721.0,353.3 720.0,353.2 719.0,353.2 718.0,353.2 717.0,353.2 716.0,353.2 715.0,353.2 714.0,353.1 713.0,353.1 712.0,353.1 711.0,353.1 710.0,353.1 709.0,353.1 708.0,353.0 707.0,353.0 706.0,353.0 705.0,353.0 704.0,353.0 703.0,352.9 702.0,352.9 701.0,352.9 700.0,352.9 699.0,352.9 698.0,352.9 697.0,352.8 696.0,352.8 695.0,352.8 694.0,352.8 693.0,352.8 692.0,352.8 691.0,352.7 690.0,352.7 689.0,352.7 688.0,352.7 687.0,352.7 686.0,352.6 685.0,352.6 684.0,352.6 683.0,352.6 682.0,352.6 681.0,352.6 680.0,352.5 679.0,352.5 678.0,352.5 677.0,352.5 676.0,352.5 675.0,352.4 674.0,352.4 673.0,352.4 672.0,352.4 671.0,352.4 670.0,352.4 669.0,352.3 668.0,352.3 667.0,352.3 666.0,352.3 665.0,352.3 664.0,352.2 663.0,352.2 662.0,352.2 661.0,352.2 660.0,352.2 659.0,352.2 658.0,352.1 657.0,352.1 656.0,352.1 655.0,352.1 654.0,352.1 653.0,352.1 652.0,352.0 651.0,352.0 650.0,352.0 649.0,352.0 648.0,352.0 647.0,351.9 646.0,351.9 645.0,351.9 644.0,351.9 643.0,351.9 642.0,351.9 641.0,351.8 640.0,351.8 639.0,351.8 638.0,351.8 637.0,351.8 636.0,351.8 635.0,351.7 634.0,351.7 633.0,351.7 632.0,351.7 631.0,351.7 630.0,351.7 629.0,351.6 628.0,351.6 627.0,351.6 626.0,351.6 625.0,351.6 624.0,351.5 623.0,351.5 622.0,351.5 621.0,351.5 620.0,351.5 619.0,351.5 618.0,351.4 617.0,351.4 616.0,351.4 615.0,351.4 614.0,351.4 613.0,351.3 612.0,351.3 611.0,351.3 610.0,351.3 609.0,351.3 608.0,351.2 607.0,351.2 606.0,351.2 605.0,351.2 604.0,351.2 603.0,351.1 602.0,351.1 601.0,351.1 600.0,351.1 599.0,351.1 598.0,351.0 597.0,351.0 596.0,351.0 595.0,351.0 594.0,351.0 593.0,350.9 592.0,350.9 591.0,350.9 590.0,350.9 589.0,350.8 588.0,350.8 587.0,350.8 586.0,350.8 585.0,350.8 584.0,350.7 583.0,350.7 582.0,350.7 581.0,350.7 580.0,350.6 579.0,350.6 578.0,350.6 577.0,350.6 576.0,350.5 575.0,350.5 574.0,350.5 573.0,350.5 572.0,350.4 571.0,350.4 570.0,350.4 569.0,350.4 568.0,350.3 567.0,350.3 566.0,350.3 565.0,350.2 564.0,350.2 563.0,350.2 562.0,350.2 561.0,350.1 560.0,350.1 559.0,350.1 558.0,350.0 557.0,350.0 556.0,350.0 555.0,350.0 554.0,349.9 553.0,349.9 552.0,349.9 551.0,349.8 550.0,349.8 549.0,349.8 548.0,349.7 547.0,349.7 546.0,349.7 545.0,349.6 544.0,349.6 543.0,349.6 542.0,349.5 541.0,349.5 540.0,349.4 539.0,349.4 538.0,349.4 537.0,349.3 536.0,349.3 535.0,349.2 534.0,349.2 533.0,349.1 532.0,349.1 531.0,349.0 530.0,349.0 529.0,349.0 528.0,348.9 527.0,348.9 526.0,348.8 525.0,348.8 524.0,348.7 523.0,348.7 522.0,348.6 521.0,348.6 520.0,348.5 519.0,348.4 518.0,348.4 517.0,348.3 516.0,348.3 515.0,348.2 514.0,348.2 513.0,348.1 512.0,348.1 511.0,348.0 510.0,348.0 509.0,347.9 508.0,347.8 507.0,347.8 506.0,347.7 505.0,347.7 504.0,347.6 503.0,347.6 502.0,347.5 501.0,347.5 500.0,347.4 499.0,347.3 498.0,347.3 497.0,347.2 496.0,347.2 495.0,347.1 494.0,347.1 493.0,347.0 492.0,346.9 491.0,346.9 490.0,346.8 489.0,346.8 488.0,346.7 487.0,346.6 486.0,346.6 485.0,346.5 484.0,346.4 483.0,346.4 482.0,346.3 481.0,346.3 480.0,346.2 479.0,346.1 478.0,346.1 477.0,346.0 476.0,345.9 475.0,345.9 474.0,345.8 473.0,345.7 472.0,345.6 471.0,345.6 470.0,345.5 469.0,345.4 468.0,345.4 467.0,345.3 466.0,345.2 465.0,345.2 464.0,345.1 463.0,345.0 462.0,344.9 461.0,344.9 460.0,344.8 459.0,344.7 458.0,344.6 457.0,344.6 456.0,344.5 455.0,344.4 454.0,344.3 453.0,344.2 452.0,344.2 451.0,344.1 450.0,344.0 449.0,343.9 448.0,343.8 447.0,343.8 446.0,343.7 445.0,343.6 444.0,343.5 443.0,343.4 442.0,343.3 441.0,343.3 440.0,343.2 439.0,343.1 438.0,343.0 437.0,342.9 436.0,342.8 435.0,342.7 434.0,342.7 433.0,342.6 432.0,342.5 431.0,342.4 430.0,342.3 429.0,342.2 428.0,342.1 427.0,342.0 426.0,341.9 425.0,341.8 424.0,341.7 423.0,341.6 422.0,341.5 421.0,341.4 420.0,341.3 419.0,341.2 418.0,341.1 417.0,341.0 416.0,340.9 415.0,340.8 414.0,340.7 413.0,340.6 412.0,340.5 411.0,340.3 410.0,340.2 409.0,340.1 408.0,340.0 407.0,339.9 406.0,339.8 405.0,339.6 404.0,339.5 403.0,339.4 402.0,339.3 401.0,339.1 400.0,339.0 399.0,338.9 398.0,338.7 397.0,338.6 396.0,338.5 395.0,338.3 394.0,338.2 393.0,338.0 392.0,337.9 391.0,337.7 390.0,337.6 389.0,337.4 388.0,337.2 387.0,337.1 386.0,336.9 385.0,336.7 384.0,336.6 383.0,336.4 382.0,336.2 381.0,336.0 380.0,335.8 379.0,335.7 378.0,335.5 377.0,335.3 376.0,335.1 375.0,334.9 374.0,334.7 373.0,334.5 372.0,334.3 371.0,334.1 370.0,333.9 369.0,333.7 368.0,333.5 367.0,333.3 366.0,333.1 365.0,332.8 364.0,332.6 363.0,332.4 362.0,332.2 361.0,331.9 360.0,331.7 359.0,331.5 358.0,331.2 357.0,331.0 356.0,330.8 355.0,330.5 354.0,330.3 353.0,330.0 352.0,329.8 351.0,329.6 350.0,329.3 349.0,329.0 348.0,328.8 347.0,328.5 346.0,328.3 345.0,328.0 344.0,327.7 343.0,327.4 342.0,327.1 341.0,326.8 340.0,326.5 339.0,326.2 338.0,325.9 337.0,325.5 336.0,325.2 335.0,324.9 334.0,324.5 333.0,324.2 332.0,323.8 331.0,323.4 330.0,323.0 329.0,322.7 328.0,322.3 327.0,321.8 326.0,321.4 325.0,321.0 324.0,320.6 323.0,320.1 322.0,319.6 321.0,319.1 320.0,318.5 319.0,317.9 318.0,317.4 317.0,316.8 316.0,316.1 315.0,315.5 314.0,314.9 313.0,314.2 312.0,313.6 311.0,313.0 310.0,312.3 309.0,311.6 308.0,310.9 307.0,310.2 306.0,309.5 305.0,308.7 304.0,308.0 303.0,307.2 302.0,306.5 301.0,305.7 300.0,305.0 299.0,304.3 298.0,303.6 297.0,302.8 296.0,302.1 295.0,301.4 294.0,300.7 293.0,300.0 293.0,300.0 292.3,299.3 290.3,297.3 288.3,295.3 286.5,293.3 284.8,291.3 283.2,289.3 281.8,287.3 280.4,285.3 279.2,283.3 278.0,281.3 276.8,279.3 275.7,277.3 274.6,275.3 273.5,273.3 272.5,271.3 271.5,269.3 270.5,267.3 269.5,265.3 268.6,263.3 267.7,261.3 266.8,259.3 266.0,257.3 265.1,255.3 264.4,253.3 263.6,251.3 262.9,249.3 262.3,247.3 261.7,245.3 261.1,243.3 260.6,241.3 260.1,239.3 259.6,237.3 259.1,235.3 258.6,233.3 258.2,231.3 257.7,229.3 257.2,227.3 256.8,225.3 256.3,223.3 255.8,221.3 255.3,219.3 254.9,217.3 254.4,215.3 253.9,213.3 253.4,211.3 252.9,209.3 252.4,207.3 252.0,205.3 251.5,203.3 251.1,201.3 250.6,199.3 250.2,197.3 249.9,195.3 249.5,193.3 249.2,191.3 248.8,189.3 248.5,187.3 248.1,185.3 247.8,183.3 247.5,181.3 247.1,179.3 246.8,177.3 246.5,175.3 246.2,173.3 245.9,171.3 245.6,169.3 245.3,167.3 245.1,165.3 244.8,163.3 244.5,161.3 244.2,159.3 244.0,157.3 243.7,155.3 243.5,153.3 243.2,151.3 243.0,149.3 242.7,147.3 242.5,145.3 242.2,143.3 242.0,141.3 241.8,139.3 241.5,137.3 241.3,135.3 241.1,133.3 240.9,131.3 240.7,129.3 240.5,127.3 240.3,125.3 240.1,123.3 239.9,121.3 239.7,119.3 239.6,117.3 239.4,115.3 239.2,113.3 239.0,111.3 238.8,109.3 238.6,107.3 238.4,105.3 238.2,103.3 238.0,101.3 237.8,99.3 237.6,97.3 237.4,95.3 237.1,93.3 236.9,91.3 236.7,89.3 236.4,87.3 236.2,85.3 235.9,83.3 235.6,81.3 235.4,79.3 235.1,77.3 234.8,75.3 234.6,73.3 234.3,71.3 234.1,69.3 233.9,67.3 233.6,65.3 233.2,63.3 232.8,61.3 232.3,59.3 231.6,57.3"/>
<polyline fill="none" stroke="#000" stroke-width="4.4" stroke-linejoin="round" points="869.3,372.0 869.6,380.0 871.0,396.0 872.2,408.0 873.0,414.0 874.0,418.0 875.5,420.6 878.0,421.8 882.0,422.2 886.0,422.3 890.0,422.4 894.0,422.4 898.0,422.4 902.0,422.4 906.0,422.3 910.0,422.3 914.0,422.3 918.0,422.2 922.0,422.2 926.0,422.1 930.0,422.1 934.0,422.1 938.0,422.0 942.0,422.0 946.0,421.9 950.0,421.9 954.0,421.8 958.0,421.8 962.0,421.7 966.0,421.7 970.0,421.6 974.0,421.5 978.0,421.5 982.0,421.4 986.0,421.4 990.0,421.3 994.0,421.2 998.0,421.1 1002.0,421.1 1006.0,421.0 1010.0,420.9 1014.0,420.8 1018.0,420.6 1022.0,420.5 1026.0,420.4 1030.0,420.3 1034.0,420.2 1038.0,420.1 1042.0,420.0 1046.0,419.8 1050.0,419.7 1054.0,419.6 1058.0,419.4 1062.0,419.2 1066.0,419.1 1070.0,418.9 1074.0,418.7 1078.0,418.5 1082.0,418.4 1086.0,418.2 1090.0,418.0 1094.0,417.8 1098.0,417.6 1102.0,417.5 1106.0,417.3 1110.0,417.1 1114.0,416.9 1118.0,416.7 1122.0,416.5 1126.0,416.4 1130.0,416.2 1131.5,416.1"/>
<g fill="none" stroke="#ba55d3" stroke-linejoin="round" stroke-width="4.4">
<polyline stroke-linejoin="miter" stroke-width="4" points="162.5,385.2 256.3,385.2 257.2,250.0"/>
<polyline points="257.2,250.0 257.3,247.2 257.9,245.3 259.2,244.1 260.8,243.6 262.5,243.4 264.2,244.3 265.6,245.7 266.7,247.5 267.7,249.4 268.6,251.3 269.5,253.1 270.4,255.0 271.3,256.9 272.1,258.7 272.9,260.6 273.6,262.4 274.3,264.3 275.0,266.2 275.8,268.0 276.5,269.9 277.3,271.8 278.1,273.8 278.9,275.8 279.7,277.8 280.5,279.8 281.4,281.8 282.2,283.8 283.2,285.8 284.2,287.8 285.2,289.8 286.3,291.8 287.5,293.8 288.7,295.8 289.3,296.8 290.3,298.2 291.3,300.0 292.3,301.8 293.3,303.5 294.3,305.1 295.3,306.6 296.3,308.0 297.3,309.4 298.3,310.7 299.3,311.9 300.3,313.2 301.3,314.4 302.3,315.5 303.3,316.7 304.3,317.8 305.3,318.9 306.3,319.9 307.3,320.9 308.3,322.0 309.3,323.0 310.3,323.9 311.3,324.9 312.3,325.9 313.3,326.9 314.3,327.8 315.3,328.8 316.3,329.7 317.3,330.6 318.3,331.5 319.3,332.4 320.3,333.3 321.3,334.1 322.3,334.9 323.3,335.6 324.3,336.3 325.3,336.9 326.3,337.5 327.3,338.1 328.3,338.7 329.3,339.2 330.3,339.7 331.3,340.2 332.3,340.7 333.3,341.2 334.3,341.6 335.3,342.1 336.3,342.5 337.3,343.0 338.3,343.4 339.3,343.9 340.3,344.3 341.3,344.8 342.3,345.2 343.3,345.7 344.3,346.2 345.3,346.6 346.3,347.0 347.3,347.5 348.3,347.9 349.3,348.3 350.3,348.7 351.3,349.1 352.3,349.4 353.3,349.8 354.3,350.1 355.3,350.5 356.3,350.8 357.3,351.1 358.3,351.4 359.3,351.7 360.3,352.0 361.3,352.3 362.3,352.6 363.3,352.8 364.3,353.1 365.3,353.4 366.3,353.6 367.3,353.9 368.3,354.1 369.3,354.3 370.3,354.6 371.3,354.8 372.3,355.0 373.3,355.2 374.3,355.4 375.3,355.6 376.3,355.8 377.3,356.0 378.3,356.2 379.3,356.4 380.3,356.6 381.3,356.7 382.3,356.9 383.3,357.1 384.3,357.3 385.3,357.5 386.3,357.6 387.3,357.8 388.3,358.0 389.3,358.2 390.3,358.3 391.3,358.5 392.3,358.6 393.3,358.8 394.3,359.0 395.3,359.1 396.3,359.3 397.3,359.4 398.3,359.5 399.3,359.7 400.3,359.8 401.3,360.0 402.3,360.1 403.3,360.2 404.3,360.3 405.3,360.5 406.3,360.6 407.3,360.7 408.3,360.8 409.3,360.9 410.3,361.0 411.3,361.1 412.3,361.2 413.3,361.3 414.3,361.5 415.3,361.6 416.3,361.7 417.3,361.8 418.3,361.9 419.3,362.0 420.3,362.1 421.3,362.2 422.3,362.3 423.3,362.4 424.3,362.5 425.3,362.6 426.3,362.7 427.3,362.8 428.3,362.9 429.3,363.0 430.3,363.1 431.3,363.2 432.3,363.3 433.3,363.4 434.3,363.5 435.3,363.6 436.3,363.6 437.3,363.7 438.3,363.8 439.3,363.9 440.3,364.0 441.3,364.0 442.3,364.1 443.3,364.2 444.3,364.3 445.3,364.3 446.3,364.4 447.3,364.4 448.3,364.5 449.3,364.6 450.3,364.6 451.3,364.7 452.3,364.7 453.3,364.8 454.3,364.9 455.3,364.9 456.3,365.0 457.3,365.0 458.3,365.1 459.3,365.1 460.3,365.2 461.3,365.2 462.3,365.3 463.3,365.3 464.3,365.4 465.3,365.4 466.3,365.5 467.3,365.5 468.3,365.6 469.3,365.6 470.3,365.7 471.3,365.7 472.3,365.8 473.3,365.8 474.3,365.9 475.3,365.9 476.3,365.9 477.3,366.0 478.3,366.0 479.3,366.1 480.3,366.1 481.3,366.2 482.3,366.2 483.3,366.2 484.3,366.3 485.3,366.3 486.3,366.4 487.3,366.4 488.3,366.4 489.3,366.5 490.3,366.5 491.3,366.6 492.3,366.6 493.3,366.6 494.3,366.7 495.3,366.7 496.3,366.8 497.3,366.8 498.3,366.8 499.3,366.9 500.3,366.9 501.3,367.0 502.3,367.0 503.3,367.0 504.3,367.1 505.3,367.1 506.3,367.1 507.3,367.2 508.3,367.2 509.3,367.3 510.3,367.3 511.3,367.3 512.3,367.4 513.3,367.4 514.3,367.5 515.3,367.5 516.3,367.5 517.3,367.6 518.3,367.6 519.3,367.6 520.3,367.7 521.3,367.7 522.3,367.8 523.3,367.8 524.3,367.8 525.3,367.9 526.3,367.9 527.3,367.9 528.3,368.0 529.3,368.0 530.3,368.0 531.3,368.1 532.3,368.1 533.3,368.1 534.3,368.2 535.3,368.2 536.3,368.2 537.3,368.3 538.3,368.3 539.3,368.3 540.3,368.3 541.3,368.4 542.3,368.4 543.3,368.4 544.3,368.5 545.3,368.5 546.3,368.5 547.3,368.5 548.3,368.6 549.3,368.6 550.3,368.6 551.3,368.6 552.3,368.7 553.3,368.7 554.3,368.7 555.3,368.7 556.3,368.7 557.3,368.8 558.3,368.8 559.3,368.8 560.3,368.8 561.3,368.9 562.3,368.9 563.3,368.9 564.3,368.9 565.3,368.9 566.3,369.0 567.3,369.0 568.3,369.0 569.3,369.0 570.3,369.1 571.3,369.1 572.3,369.1 573.3,369.1 574.3,369.1 575.3,369.2 576.3,369.2 577.3,369.2 578.3,369.2 579.3,369.2 580.3,369.3 581.3,369.3 582.3,369.3 583.3,369.3 584.3,369.3 585.3,369.4 586.3,369.4 587.3,369.4 588.3,369.4 589.3,369.4 590.3,369.5 591.3,369.5 592.3,369.5 593.3,369.5 594.3,369.5 595.3,369.5 596.3,369.6 597.3,369.6 598.3,369.6 599.3,369.6 600.3,369.6 601.3,369.7 602.3,369.7 603.3,369.7 604.3,369.7 605.3,369.7 606.3,369.7 607.3,369.8 608.3,369.8 609.3,369.8 610.3,369.8 611.3,369.8 612.3,369.8 613.3,369.8 614.3,369.9 615.3,369.9 616.3,369.9 617.3,369.9 618.3,369.9 619.3,369.9 620.3,370.0 621.3,370.0 622.3,370.0 623.3,370.0 624.3,370.0 625.3,370.0 626.3,370.0 627.3,370.0 628.3,370.1 629.3,370.1 630.3,370.1 631.3,370.1 632.3,370.1 633.3,370.1 634.3,370.1 635.3,370.1 636.3,370.2 637.3,370.2 638.3,370.2 639.3,370.2 640.3,370.2 641.3,370.2 642.3,370.2 643.3,370.2 644.3,370.2 645.3,370.3 646.3,370.3 647.3,370.3 648.3,370.3 649.3,370.3 650.3,370.3 651.3,370.3 652.3,370.3 653.3,370.3 654.3,370.3 655.3,370.3 656.3,370.4 657.3,370.4 658.3,370.4 659.3,370.4 660.3,370.4 661.3,370.4 662.3,370.4 663.3,370.4 664.3,370.4 665.3,370.4 666.3,370.4 667.3,370.4 668.3,370.5 669.3,370.5 670.3,370.5 671.3,370.5 672.3,370.5 673.3,370.5 674.3,370.5 675.3,370.5 676.3,370.5 677.3,370.5 678.3,370.5 679.3,370.5 680.3,370.5 681.3,370.5 682.3,370.6 683.3,370.6 684.3,370.6 685.3,370.6 686.3,370.6 687.3,370.6 688.3,370.6 689.3,370.6 690.3,370.6 691.3,370.6 692.3,370.6 693.3,370.6 694.3,370.6 695.3,370.6 696.3,370.6 697.3,370.7 698.3,370.7 699.3,370.7 700.3,370.7 701.3,370.7 702.3,370.7 703.3,370.7 704.3,370.7 705.3,370.7 706.3,370.7 707.3,370.7 708.3,370.7 709.3,370.7 710.3,370.7 711.3,370.7 712.3,370.7 713.3,370.7 714.3,370.7 715.3,370.8 716.3,370.8 717.3,370.8 718.3,370.8 719.3,370.8 720.3,370.8 721.3,370.8 722.3,370.8 723.3,370.8 724.3,370.8 725.3,370.8 726.3,370.8 727.3,370.8 728.3,370.8 729.3,370.8 730.3,370.8 731.3,370.8 732.3,370.8 733.3,370.8 734.3,370.9 735.3,370.9 736.3,370.9 737.3,370.9 738.3,370.9 739.3,370.9 740.3,370.9 741.3,370.9 742.3,370.9 743.3,370.9 744.3,370.9 745.3,370.9 746.3,370.9 747.3,370.9 748.3,370.9 749.3,370.9 750.3,370.9 751.3,370.9 752.3,370.9 753.3,370.9 754.3,371.0 755.3,371.0 756.3,371.0 757.3,371.0 758.3,371.0 759.3,371.0 760.3,371.0 761.3,371.0 762.3,371.0 763.3,371.0 764.3,371.0 765.3,371.0 766.3,371.0 767.3,371.0 768.3,371.0 769.3,371.0 770.3,371.0 771.3,371.0 772.3,371.0 773.3,371.0 774.3,371.1 775.3,371.1 776.3,371.1 777.3,371.1 778.3,371.1 779.3,371.1 780.3,371.1 781.3,371.1 782.3,371.1 783.3,371.1 784.3,371.1 785.3,371.1 786.3,371.1 787.3,371.1 788.3,371.1 789.3,371.1 790.3,371.1 791.3,371.1 792.3,371.2 793.3,371.2 794.3,371.2 795.3,371.2 796.3,371.2 797.3,371.2 798.3,371.2 799.3,371.2 800.3,371.2 801.3,371.2 802.3,371.2 803.3,371.2 804.3,371.2 805.3,371.2 806.3,371.2 807.3,371.2 808.3,371.3 809.3,371.3 810.3,371.3 811.3,371.3 812.3,371.3 813.3,371.3 814.3,371.3 815.3,371.3 816.3,371.3 817.3,371.3 818.3,371.3 819.3,371.3 820.3,371.3 821.3,371.3 822.3,371.3 823.3,371.3 824.3,371.4 825.3,371.4 826.3,371.4 827.3,371.4 828.3,371.4 829.3,371.4 830.3,371.4 831.3,371.4 832.3,371.4 833.3,371.4 834.3,371.4 835.3,371.4 836.3,371.4 837.3,371.4 838.3,371.4 839.3,371.4 840.3,371.5 841.3,371.5 842.3,371.5 843.3,371.5 844.3,371.5 845.3,371.5 846.3,371.5 847.3,371.5 848.3,371.5 849.3,371.5 850.3,371.5 851.3,371.5 852.3,371.5 853.3,371.5 854.3,371.5 855.3,371.5 856.3,371.6 857.3,371.6 858.3,371.6 859.3,371.6 860.3,371.6 861.3,371.6 862.3,371.6 863.3,371.6 864.3,371.6 865.3,371.6 866.3,371.6 867.3,371.6 868.3,371.6 869.3,371.6 870.3,371.6 871.3,371.6 872.3,371.7 873.3,371.7 874.3,371.7 875.3,371.7 876.3,371.7 877.3,371.7 878.3,371.7 879.3,371.7 880.3,371.7 881.3,371.7 882.3,371.7 883.3,371.7 884.3,371.7 885.3,371.7 886.3,371.7 887.3,371.7 888.3,371.8 889.3,371.8 890.3,371.8 891.3,371.8 892.3,371.8 893.3,371.8 894.3,371.8 895.3,371.8 895.5,371.8 897.3,372.3 898.4,374.0 898.8,376.8 899.0,382.4 899.2,384.5 899.3,386.7 899.5,388.9 899.6,391.1 899.8,393.3 899.9,395.4 900.1,397.6 900.2,399.7 900.3,401.7 900.5,403.7 900.6,405.7 900.7,407.7 900.8,409.7 901.0,411.7 901.2,413.7 901.5,415.7 901.7,417.7 902.0,419.7 902.2,421.7 902.4,423.7 902.7,425.7 902.9,427.7 903.2,429.7 903.6,431.7 904.2,433.7 904.3,434.2 905.2,436.3 906.6,437.2 909.0,437.4 913.0,437.1 917.0,436.7 921.0,436.1 925.0,435.3 929.0,434.4 933.0,433.5 937.0,432.6 941.0,431.8 945.0,431.2 949.0,430.7 953.0,430.2 957.0,429.7 961.0,429.3 965.0,428.8 969.0,428.3 973.0,427.8 977.0,427.2 981.0,426.6 985.0,426.1 989.0,425.5 993.0,424.9 997.0,424.2 1001.0,423.6 1005.0,423.0 1009.0,422.3 1013.0,421.6 1017.0,420.9 1021.0,420.1 1025.0,419.4 1029.0,418.6 1033.0,417.8 1037.0,417.0 1041.0,416.1 1045.0,415.3 1049.0,414.5 1053.0,413.7 1057.0,412.8 1061.0,412.0 1065.0,411.2 1069.0,410.3 1073.0,409.5 1077.0,408.8 1081.0,408.0 1085.0,407.3 1089.0,406.6 1093.0,405.9 1097.0,405.2 1101.0,404.5 1105.0,403.8 1109.0,403.2 1113.0,402.5 1117.0,401.9 1121.0,401.3 1125.0,400.6 1129.0,400.0 1131.5,399.7"/>
<polyline points="257.2,250.0 257.3,247.2 257.9,245.3 259.2,244.1 260.8,243.8 262.5,244.0 264.2,245.2 265.6,247.0 266.7,249.0 267.7,251.0 268.6,253.0 269.5,255.0 270.4,257.0 271.3,259.0 272.1,261.0 272.9,263.0 273.6,265.0 274.3,267.0 275.0,269.0 275.8,271.0 276.5,273.0 277.3,275.0 278.1,277.0 278.9,279.0 279.7,281.0 280.5,283.0 281.4,285.0 282.2,287.0 283.2,289.0 284.2,291.0 285.2,293.0 286.3,295.0 287.5,297.0 288.7,299.0 289.3,300.0 290.3,301.8 291.3,303.6 292.3,305.3 293.3,307.0 294.3,308.5 295.3,310.0 296.3,311.3 297.3,312.7 298.3,313.9 299.3,315.2 300.3,316.4 301.3,317.5 302.3,318.6 303.3,319.7 304.3,320.8 305.3,321.9 306.3,322.9 307.3,323.9 308.3,324.9 309.3,325.8 310.3,326.8 311.3,327.7 312.3,328.7 313.3,329.6 314.3,330.6 315.3,331.5 316.3,332.4 317.3,333.3 318.3,334.2 319.3,335.1 320.3,335.9 321.3,336.7 322.3,337.5 323.3,338.2 324.3,338.9 325.3,339.5 326.3,340.1 327.3,340.7 328.3,341.2 329.3,341.7 330.3,342.2 331.3,342.7 332.3,343.2 333.3,343.6 334.3,344.1 335.3,344.5 336.3,345.0 337.3,345.4 338.3,345.8 339.3,346.3 340.3,346.7 341.3,347.2 342.3,347.6 343.3,348.1 344.3,348.5 345.3,349.0 346.3,349.4 347.3,349.8 348.3,350.2 349.3,350.6 350.3,351.0 351.3,351.4 352.3,351.8 353.3,352.1 354.3,352.4 355.3,352.8 356.3,353.1 357.3,353.4 358.3,353.7 359.3,354.0 360.3,354.3 361.3,354.6 362.3,354.8 363.3,355.1 364.3,355.4 365.3,355.6 366.3,355.9 367.3,356.1 368.3,356.4 369.3,356.6 370.3,356.8 371.3,357.1 372.3,357.3 373.3,357.5 374.3,357.7 375.3,357.9 376.3,358.1 377.3,358.2 378.3,358.4 379.3,358.6 380.3,358.8 381.3,359.0 382.3,359.2 383.3,359.3 384.3,359.5 385.3,359.7 386.3,359.9 387.3,360.0 388.3,360.2 389.3,360.4 390.3,360.5 391.3,360.7 392.3,360.9 393.3,361.0 394.3,361.2 395.3,361.3 396.3,361.5 397.3,361.6 398.3,361.8 399.3,361.9 400.3,362.0 401.3,362.2 402.3,362.3 403.3,362.4 404.3,362.6 405.3,362.7 406.3,362.8 407.3,362.9 408.3,363.0 409.3,363.1 410.3,363.2 411.3,363.3 412.3,363.4 413.3,363.6 414.3,363.7 415.3,363.8 416.3,363.9 417.3,364.0 418.3,364.1 419.3,364.2 420.3,364.3 421.3,364.4 422.3,364.5 423.3,364.6 424.3,364.7 425.3,364.8 426.3,364.9 427.3,365.0 428.3,365.1 429.3,365.2 430.3,365.3 431.3,365.4 432.3,365.5 433.3,365.6 434.3,365.7 435.3,365.8 436.3,365.8 437.3,365.9 438.3,366.0 439.3,366.1 440.3,366.2 441.3,366.2 442.3,366.3 443.3,366.4 444.3,366.5 445.3,366.5 446.3,366.6 447.3,366.6 448.3,366.7 449.3,366.8 450.3,366.8 451.3,366.9 452.3,366.9 453.3,367.0 454.3,367.1 455.3,367.1 456.3,367.2 457.3,367.2 458.3,367.3 459.3,367.3 460.3,367.4 461.3,367.4 462.3,367.5 463.3,367.5 464.3,367.6 465.3,367.6 466.3,367.7 467.3,367.7 468.3,367.8 469.3,367.8 470.3,367.9 471.3,367.9 472.3,368.0 473.3,368.0 474.3,368.1 475.3,368.1 476.3,368.1 477.3,368.2 478.3,368.2 479.3,368.3 480.3,368.3 481.3,368.4 482.3,368.4 483.3,368.4 484.3,368.5 485.3,368.5 486.3,368.6 487.3,368.6 488.3,368.6 489.3,368.7 490.3,368.7 491.3,368.8 492.3,368.8 493.3,368.8 494.3,368.9 495.3,368.9 496.3,369.0 497.3,369.0 498.3,369.0 499.3,369.1 500.3,369.1 501.3,369.2 502.3,369.2 503.3,369.2 504.3,369.3 505.3,369.3 506.3,369.3 507.3,369.4 508.3,369.4 509.3,369.5 510.3,369.5 511.3,369.5 512.3,369.6 513.3,369.6 514.3,369.7 515.3,369.7 516.3,369.7 517.3,369.8 518.3,369.8 519.3,369.8 520.3,369.9 521.3,369.9 522.3,370.0 523.3,370.0 524.3,370.0 525.3,370.1 526.3,370.1 527.3,370.1 528.3,370.2 529.3,370.2 530.3,370.2 531.3,370.3 532.3,370.3 533.3,370.3 534.3,370.4 535.3,370.4 536.3,370.4 537.3,370.5 538.3,370.5 539.3,370.5 540.3,370.5 541.3,370.6 542.3,370.6 543.3,370.6 544.3,370.7 545.3,370.7 546.3,370.7 547.3,370.7 548.3,370.8 549.3,370.8 550.3,370.8 551.3,370.8 552.3,370.9 553.3,370.9 554.3,370.9 555.3,370.9 556.3,370.9 557.3,371.0 558.3,371.0 559.3,371.0 560.3,371.0 561.3,371.1 562.3,371.1 563.3,371.1 564.3,371.1 565.3,371.1 566.3,371.2 567.3,371.2 568.3,371.2 569.3,371.2 570.3,371.3 571.3,371.3 572.3,371.3 573.3,371.3 574.3,371.3 575.3,371.4 576.3,371.4 577.3,371.4 578.3,371.4 579.3,371.4 580.3,371.5 581.3,371.5 582.3,371.5 583.3,371.5 584.3,371.5 585.3,371.6 586.3,371.6 587.3,371.6 588.3,371.6 589.3,371.6 590.3,371.7 591.3,371.7 592.3,371.7 593.3,371.7 594.3,371.7 595.3,371.7 596.3,371.8 597.3,371.8 598.3,371.8 599.3,371.8 600.3,371.8 601.3,371.9 602.3,371.9 603.3,371.9 604.3,371.9 605.3,371.9 606.3,371.9 607.3,372.0 608.3,372.0 609.3,372.0 610.3,372.0 611.3,372.0 612.3,372.0 613.3,372.0 614.3,372.1 615.3,372.1 616.3,372.1 617.3,372.1 618.3,372.1 619.3,372.1 620.3,372.2 621.3,372.2 622.3,372.2 623.3,372.2 624.3,372.2 625.3,372.2 626.3,372.2 627.3,372.2 628.3,372.3 629.3,372.3 630.3,372.3 631.3,372.3 632.3,372.3 633.3,372.3 634.3,372.3 635.3,372.3 636.3,372.4 637.3,372.4 638.3,372.4 639.3,372.4 640.3,372.4 641.3,372.4 642.3,372.4 643.3,372.4 644.3,372.4 645.3,372.5 646.3,372.5 647.3,372.5 648.3,372.5 649.3,372.5 650.3,372.5 651.3,372.5 652.3,372.5 653.3,372.5 654.3,372.5 655.3,372.5 656.3,372.6 657.3,372.6 658.3,372.6 659.3,372.6 660.3,372.6 661.3,372.6 662.3,372.6 663.3,372.6 664.3,372.6 665.3,372.6 666.3,372.6 667.3,372.6 668.3,372.7 669.3,372.7 670.3,372.7 671.3,372.7 672.3,372.7 673.3,372.7 674.3,372.7 675.3,372.7 676.3,372.7 677.3,372.7 678.3,372.7 679.3,372.7 680.3,372.7 681.3,372.7 682.3,372.8 683.3,372.8 684.3,372.8 685.3,372.8 686.3,372.8 687.3,372.8 688.3,372.8 689.3,372.8 690.3,372.8 691.3,372.8 692.3,372.8 693.3,372.8 694.3,372.8 695.3,372.8 696.3,372.8 697.3,372.9 698.3,372.9 699.3,372.9 700.3,372.9 701.3,372.9 702.3,372.9 703.3,372.9 704.3,372.9 705.3,372.9 706.3,372.9 707.3,372.9 708.3,372.9 709.3,372.9 710.3,372.9 711.3,372.9 712.3,372.9 713.3,372.9 714.3,372.9 715.3,373.0 716.3,373.0 717.3,373.0 718.3,373.0 719.3,373.0 720.3,373.0 721.3,373.0 722.3,373.0 723.3,373.0 724.3,373.0 725.3,373.0 726.3,373.0 727.3,373.0 728.3,373.0 729.3,373.0 730.3,373.0 731.3,373.0 732.3,373.0 733.3,373.0 734.3,373.1 735.3,373.1 736.3,373.1 737.3,373.1 738.3,373.1 739.3,373.1 740.3,373.1 741.3,373.1 742.3,373.1 743.3,373.1 744.3,373.1 745.3,373.1 746.3,373.1 747.3,373.1 748.3,373.1 749.3,373.1 750.3,373.1 751.3,373.1 752.3,373.1 753.3,373.1 754.3,373.2 755.3,373.2 756.3,373.2 757.3,373.2 758.3,373.2 759.3,373.2 760.3,373.2 761.3,373.2 762.3,373.2 763.3,373.2 764.3,373.2 765.3,373.2 766.3,373.2 767.3,373.2 768.3,373.2 769.3,373.2 770.3,373.2 771.3,373.2 772.3,373.2 773.3,373.2 774.3,373.3 775.3,373.3 776.3,373.3 777.3,373.3 778.3,373.3 779.3,373.3 780.3,373.3 781.3,373.3 782.3,373.3 783.3,373.3 784.3,373.3 785.3,373.3 786.3,373.3 787.3,373.3 788.3,373.3 789.3,373.3 790.3,373.3 791.3,373.3 792.3,373.4 793.3,373.4 794.3,373.4 795.3,373.4 796.3,373.4 797.3,373.4 798.3,373.4 799.3,373.4 800.3,373.4 801.3,373.4 802.3,373.4 803.3,373.4 804.3,373.4 805.3,373.4 806.3,373.4 807.3,373.4 808.3,373.5 809.3,373.5 810.3,373.5 811.3,373.5 812.3,373.5 813.3,373.5 814.3,373.5 815.3,373.5 816.3,373.5 817.3,373.5 818.3,373.5 819.3,373.5 820.3,373.5 821.3,373.5 822.3,373.5 823.3,373.5 824.3,373.6 825.3,373.6 826.3,373.6 827.3,373.6 828.3,373.6 829.3,373.6 830.3,373.6 831.3,373.6 832.3,373.6 833.3,373.6 834.3,373.6 835.3,373.6 836.3,373.6 837.3,373.6 838.3,373.6 839.3,373.6 840.3,373.7 841.3,373.7 842.3,373.7 843.3,373.7 844.3,373.7 845.3,373.7 846.3,373.7 847.3,373.7 848.3,373.7 849.3,373.7 850.3,373.7 851.3,373.7 852.3,373.7 853.3,373.7 854.3,373.7 855.3,373.7 856.3,373.8 857.3,373.8 858.3,373.8 859.3,373.8 860.3,373.8 861.3,373.8 862.3,373.8 863.3,373.8 864.3,373.8 865.3,373.8 866.3,373.8 867.3,373.8 868.3,373.8 869.3,373.8 870.3,373.8 871.3,373.8 872.3,373.9 873.3,373.9 874.3,373.9 875.3,373.9 876.3,373.9 877.3,373.9 878.3,373.9 879.3,373.9 880.3,373.9 881.3,373.9 882.3,373.9 883.3,373.9 884.3,373.9 885.3,373.9 886.3,373.9 887.3,373.9 888.3,374.0 889.3,374.0 890.3,374.0 891.3,374.0 892.3,374.0 893.3,374.0 894.3,374.0 895.3,374.0 895.5,374.0 897.3,374.5 898.4,376.2 898.8,379.0 899.0,384.0 899.2,386.0 899.3,388.0 899.5,390.0 899.6,392.0 899.8,394.0 899.9,396.0 900.1,398.0 900.2,400.0 900.3,402.0 900.5,404.0 900.6,406.0 900.7,408.0 900.8,410.0 901.0,412.0 901.2,414.0 901.5,416.0 901.7,418.0 902.0,420.0 902.2,422.0 902.4,424.0 902.7,426.0 902.9,428.0 903.2,430.0 903.6,432.0 904.2,434.0 904.3,434.5 905.2,436.6 906.6,437.5 909.0,437.7 913.0,437.5 917.0,437.1 921.0,436.4 925.0,435.6 929.0,434.7 933.0,433.8 937.0,432.9 941.0,432.1 945.0,431.5 949.0,431.0 953.0,430.5 957.0,430.1 961.0,429.6 965.0,429.1 969.0,428.6 973.0,428.1 977.0,427.5 981.0,427.0 985.0,426.4 989.0,425.8 993.0,425.2 997.0,424.6 1001.0,423.9 1005.0,423.3 1009.0,422.6 1013.0,421.9 1017.0,421.2 1021.0,420.4 1025.0,419.7 1029.0,418.9 1033.0,418.1 1037.0,417.3 1041.0,416.5 1045.0,415.6 1049.0,414.8 1053.0,414.0 1057.0,413.2 1061.0,412.3 1065.0,411.5 1069.0,410.7 1073.0,409.9 1077.0,409.1 1081.0,408.3 1085.0,407.6 1089.0,406.9 1093.0,406.2 1097.0,405.5 1101.0,404.8 1105.0,404.2 1109.0,403.5 1113.0,402.9 1117.0,402.2 1121.0,401.6 1125.0,401.0 1129.0,400.4 1131.5,400.0"/>
<polyline points="257.2,250.0 257.3,247.2 257.9,245.3 259.2,244.1 260.8,244.0 262.5,244.6 264.2,246.1 265.6,248.3 266.7,250.5 267.7,252.6 268.6,254.7 269.5,256.9 270.4,259.0 271.3,261.1 272.1,263.3 272.9,265.4 273.6,267.6 274.3,269.7 275.0,271.8 275.8,274.0 276.5,276.1 277.3,278.2 278.1,280.2 278.9,282.2 279.7,284.2 280.5,286.2 281.4,288.2 282.2,290.2 283.2,292.2 284.2,294.2 285.2,296.2 286.3,298.2 287.5,300.2 288.7,302.2 289.3,303.2 290.3,305.5 291.3,307.2 292.3,308.9 293.3,310.5 294.3,311.9 295.3,313.3 296.3,314.7 297.3,316.0 298.3,317.2 299.3,318.4 300.3,319.5 301.3,320.6 302.3,321.7 303.3,322.8 304.3,323.8 305.3,324.9 306.3,325.8 307.3,326.8 308.3,327.8 309.3,328.7 310.3,329.6 311.3,330.6 312.3,331.5 313.3,332.4 314.3,333.3 315.3,334.3 316.3,335.2 317.3,336.0 318.3,336.9 319.3,337.7 320.3,338.5 321.3,339.3 322.3,340.1 323.3,340.8 324.3,341.4 325.3,342.0 326.3,342.6 327.3,343.2 328.3,343.7 329.3,344.2 330.3,344.7 331.3,345.2 332.3,345.7 333.3,346.1 334.3,346.5 335.3,347.0 336.3,347.4 337.3,347.8 338.3,348.3 339.3,348.7 340.3,349.1 341.3,349.6 342.3,350.0 343.3,350.5 344.3,350.9 345.3,351.3 346.3,351.7 347.3,352.2 348.3,352.6 349.3,353.0 350.3,353.4 351.3,353.7 352.3,354.1 353.3,354.4 354.3,354.7 355.3,355.1 356.3,355.4 357.3,355.7 358.3,356.0 359.3,356.3 360.3,356.6 361.3,356.8 362.3,357.1 363.3,357.4 364.3,357.6 365.3,357.9 366.3,358.2 367.3,358.4 368.3,358.6 369.3,358.9 370.3,359.1 371.3,359.3 372.3,359.5 373.3,359.7 374.3,359.9 375.3,360.1 376.3,360.3 377.3,360.5 378.3,360.7 379.3,360.9 380.3,361.0 381.3,361.2 382.3,361.4 383.3,361.6 384.3,361.8 385.3,361.9 386.3,362.1 387.3,362.3 388.3,362.4 389.3,362.6 390.3,362.8 391.3,362.9 392.3,363.1 393.3,363.2 394.3,363.4 395.3,363.5 396.3,363.7 397.3,363.8 398.3,364.0 399.3,364.1 400.3,364.3 401.3,364.4 402.3,364.5 403.3,364.6 404.3,364.8 405.3,364.9 406.3,365.0 407.3,365.1 408.3,365.2 409.3,365.3 410.3,365.4 411.3,365.6 412.3,365.7 413.3,365.8 414.3,365.9 415.3,366.0 416.3,366.1 417.3,366.2 418.3,366.3 419.3,366.4 420.3,366.5 421.3,366.6 422.3,366.7 423.3,366.8 424.3,366.9 425.3,367.0 426.3,367.1 427.3,367.2 428.3,367.3 429.3,367.4 430.3,367.5 431.3,367.6 432.3,367.7 433.3,367.8 434.3,367.9 435.3,368.0 436.3,368.1 437.3,368.1 438.3,368.2 439.3,368.3 440.3,368.4 441.3,368.4 442.3,368.5 443.3,368.6 444.3,368.7 445.3,368.7 446.3,368.8 447.3,368.8 448.3,368.9 449.3,369.0 450.3,369.0 451.3,369.1 452.3,369.1 453.3,369.2 454.3,369.3 455.3,369.3 456.3,369.4 457.3,369.4 458.3,369.5 459.3,369.5 460.3,369.6 461.3,369.6 462.3,369.7 463.3,369.7 464.3,369.8 465.3,369.8 466.3,369.9 467.3,369.9 468.3,370.0 469.3,370.0 470.3,370.1 471.3,370.1 472.3,370.2 473.3,370.2 474.3,370.3 475.3,370.3 476.3,370.3 477.3,370.4 478.3,370.4 479.3,370.5 480.3,370.5 481.3,370.6 482.3,370.6 483.3,370.6 484.3,370.7 485.3,370.7 486.3,370.8 487.3,370.8 488.3,370.8 489.3,370.9 490.3,370.9 491.3,371.0 492.3,371.0 493.3,371.0 494.3,371.1 495.3,371.1 496.3,371.2 497.3,371.2 498.3,371.2 499.3,371.3 500.3,371.3 501.3,371.4 502.3,371.4 503.3,371.4 504.3,371.5 505.3,371.5 506.3,371.5 507.3,371.6 508.3,371.6 509.3,371.7 510.3,371.7 511.3,371.7 512.3,371.8 513.3,371.8 514.3,371.9 515.3,371.9 516.3,371.9 517.3,372.0 518.3,372.0 519.3,372.0 520.3,372.1 521.3,372.1 522.3,372.2 523.3,372.2 524.3,372.2 525.3,372.3 526.3,372.3 527.3,372.3 528.3,372.4 529.3,372.4 530.3,372.4 531.3,372.5 532.3,372.5 533.3,372.5 534.3,372.6 535.3,372.6 536.3,372.6 537.3,372.7 538.3,372.7 539.3,372.7 540.3,372.7 541.3,372.8 542.3,372.8 543.3,372.8 544.3,372.9 545.3,372.9 546.3,372.9 547.3,372.9 548.3,373.0 549.3,373.0 550.3,373.0 551.3,373.0 552.3,373.1 553.3,373.1 554.3,373.1 555.3,373.1 556.3,373.1 557.3,373.2 558.3,373.2 559.3,373.2 560.3,373.2 561.3,373.3 562.3,373.3 563.3,373.3 564.3,373.3 565.3,373.3 566.3,373.4 567.3,373.4 568.3,373.4 569.3,373.4 570.3,373.5 571.3,373.5 572.3,373.5 573.3,373.5 574.3,373.5 575.3,373.6 576.3,373.6 577.3,373.6 578.3,373.6 579.3,373.6 580.3,373.7 581.3,373.7 582.3,373.7 583.3,373.7 584.3,373.7 585.3,373.8 586.3,373.8 587.3,373.8 588.3,373.8 589.3,373.8 590.3,373.9 591.3,373.9 592.3,373.9 593.3,373.9 594.3,373.9 595.3,373.9 596.3,374.0 597.3,374.0 598.3,374.0 599.3,374.0 600.3,374.0 601.3,374.1 602.3,374.1 603.3,374.1 604.3,374.1 605.3,374.1 606.3,374.1 607.3,374.2 608.3,374.2 609.3,374.2 610.3,374.2 611.3,374.2 612.3,374.2 613.3,374.2 614.3,374.3 615.3,374.3 616.3,374.3 617.3,374.3 618.3,374.3 619.3,374.3 620.3,374.4 621.3,374.4 622.3,374.4 623.3,374.4 624.3,374.4 625.3,374.4 626.3,374.4 627.3,374.4 628.3,374.5 629.3,374.5 630.3,374.5 631.3,374.5 632.3,374.5 633.3,374.5 634.3,374.5 635.3,374.5 636.3,374.6 637.3,374.6 638.3,374.6 639.3,374.6 640.3,374.6 641.3,374.6 642.3,374.6 643.3,374.6 644.3,374.6 645.3,374.7 646.3,374.7 647.3,374.7 648.3,374.7 649.3,374.7 650.3,374.7 651.3,374.7 652.3,374.7 653.3,374.7 654.3,374.7 655.3,374.7 656.3,374.8 657.3,374.8 658.3,374.8 659.3,374.8 660.3,374.8 661.3,374.8 662.3,374.8 663.3,374.8 664.3,374.8 665.3,374.8 666.3,374.8 667.3,374.8 668.3,374.9 669.3,374.9 670.3,374.9 671.3,374.9 672.3,374.9 673.3,374.9 674.3,374.9 675.3,374.9 676.3,374.9 677.3,374.9 678.3,374.9 679.3,374.9 680.3,374.9 681.3,374.9 682.3,375.0 683.3,375.0 684.3,375.0 685.3,375.0 686.3,375.0 687.3,375.0 688.3,375.0 689.3,375.0 690.3,375.0 691.3,375.0 692.3,375.0 693.3,375.0 694.3,375.0 695.3,375.0 696.3,375.0 697.3,375.1 698.3,375.1 699.3,375.1 700.3,375.1 701.3,375.1 702.3,375.1 703.3,375.1 704.3,375.1 705.3,375.1 706.3,375.1 707.3,375.1 708.3,375.1 709.3,375.1 710.3,375.1 711.3,375.1 712.3,375.1 713.3,375.1 714.3,375.1 715.3,375.2 716.3,375.2 717.3,375.2 718.3,375.2 719.3,375.2 720.3,375.2 721.3,375.2 722.3,375.2 723.3,375.2 724.3,375.2 725.3,375.2 726.3,375.2 727.3,375.2 728.3,375.2 729.3,375.2 730.3,375.2 731.3,375.2 732.3,375.2 733.3,375.2 734.3,375.3 735.3,375.3 736.3,375.3 737.3,375.3 738.3,375.3 739.3,375.3 740.3,375.3 741.3,375.3 742.3,375.3 743.3,375.3 744.3,375.3 745.3,375.3 746.3,375.3 747.3,375.3 748.3,375.3 749.3,375.3 750.3,375.3 751.3,375.3 752.3,375.3 753.3,375.3 754.3,375.4 755.3,375.4 756.3,375.4 757.3,375.4 758.3,375.4 759.3,375.4 760.3,375.4 761.3,375.4 762.3,375.4 763.3,375.4 764.3,375.4 765.3,375.4 766.3,375.4 767.3,375.4 768.3,375.4 769.3,375.4 770.3,375.4 771.3,375.4 772.3,375.4 773.3,375.4 774.3,375.5 775.3,375.5 776.3,375.5 777.3,375.5 778.3,375.5 779.3,375.5 780.3,375.5 781.3,375.5 782.3,375.5 783.3,375.5 784.3,375.5 785.3,375.5 786.3,375.5 787.3,375.5 788.3,375.5 789.3,375.5 790.3,375.5 791.3,375.5 792.3,375.6 793.3,375.6 794.3,375.6 795.3,375.6 796.3,375.6 797.3,375.6 798.3,375.6 799.3,375.6 800.3,375.6 801.3,375.6 802.3,375.6 803.3,375.6 804.3,375.6 805.3,375.6 806.3,375.6 807.3,375.6 808.3,375.7 809.3,375.7 810.3,375.7 811.3,375.7 812.3,375.7 813.3,375.7 814.3,375.7 815.3,375.7 816.3,375.7 817.3,375.7 818.3,375.7 819.3,375.7 820.3,375.7 821.3,375.7 822.3,375.7 823.3,375.7 824.3,375.8 825.3,375.8 826.3,375.8 827.3,375.8 828.3,375.8 829.3,375.8 830.3,375.8 831.3,375.8 832.3,375.8 833.3,375.8 834.3,375.8 835.3,375.8 836.3,375.8 837.3,375.8 838.3,375.8 839.3,375.8 840.3,375.9 841.3,375.9 842.3,375.9 843.3,375.9 844.3,375.9 845.3,375.9 846.3,375.9 847.3,375.9 848.3,375.9 849.3,375.9 850.3,375.9 851.3,375.9 852.3,375.9 853.3,375.9 854.3,375.9 855.3,375.9 856.3,376.0 857.3,376.0 858.3,376.0 859.3,376.0 860.3,376.0 861.3,376.0 862.3,376.0 863.3,376.0 864.3,376.0 865.3,376.0 866.3,376.0 867.3,376.0 868.3,376.0 869.3,376.0 870.3,376.0 871.3,376.0 872.3,376.1 873.3,376.1 874.3,376.1 875.3,376.1 876.3,376.1 877.3,376.1 878.3,376.1 879.3,376.1 880.3,376.1 881.3,376.1 882.3,376.1 883.3,376.1 884.3,376.1 885.3,376.1 886.3,376.1 887.3,376.1 888.3,376.2 889.3,376.2 890.3,376.2 891.3,376.2 892.3,376.2 893.3,376.2 894.3,376.2 895.3,376.2 895.5,376.2 897.3,376.7 898.4,378.4 898.8,381.2 899.0,385.6 899.2,387.5 899.3,389.3 899.5,391.1 899.6,392.9 899.8,394.7 899.9,396.6 900.1,398.4 900.2,400.3 900.3,402.3 900.5,404.3 900.6,406.3 900.7,408.3 900.8,410.3 901.0,412.3 901.2,414.3 901.5,416.3 901.7,418.3 902.0,420.3 902.2,422.3 902.4,424.3 902.7,426.3 902.9,428.3 903.2,430.3 903.6,432.3 904.2,434.3 904.3,434.8 905.2,436.9 906.6,437.8 909.0,438.0 913.0,437.8 917.0,437.4 921.0,436.8 925.0,435.9 929.0,435.0 933.0,434.1 937.0,433.2 941.0,432.5 945.0,431.9 949.0,431.3 953.0,430.8 957.0,430.4 961.0,429.9 965.0,429.5 969.0,429.0 973.0,428.4 977.0,427.9 981.0,427.3 985.0,426.7 989.0,426.1 993.0,425.5 997.0,424.9 1001.0,424.3 1005.0,423.6 1009.0,422.9 1013.0,422.2 1017.0,421.5 1021.0,420.8 1025.0,420.0 1029.0,419.3 1033.0,418.5 1037.0,417.6 1041.0,416.8 1045.0,416.0 1049.0,415.1 1053.0,414.3 1057.0,413.5 1061.0,412.7 1065.0,411.8 1069.0,411.0 1073.0,410.2 1077.0,409.4 1081.0,408.7 1085.0,407.9 1089.0,407.2 1093.0,406.5 1097.0,405.8 1101.0,405.2 1105.0,404.5 1109.0,403.8 1113.0,403.2 1117.0,402.6 1121.0,401.9 1125.0,401.3 1129.0,400.7 1131.5,400.3"/>
</g>
<g fill="#808080"><rect x="752" y="38.2" width="5" height="16.2"/><rect x="752" y="71.0" width="5" height="16.6"/><rect x="752" y="104.3" width="5" height="16.6"/><rect x="752" y="137.7" width="5" height="16.6"/><rect x="752" y="171.0" width="5" height="16.6"/><rect x="752" y="204.3" width="5" height="16.6"/><rect x="752" y="237.6" width="5" height="16.6"/><rect x="752" y="271.0" width="5" height="16.6"/><rect x="752" y="304.3" width="5" height="16.6"/><rect x="752" y="337.6" width="5" height="16.6"/><rect x="752" y="371.0" width="5" height="16.6"/><rect x="752" y="404.3" width="5" height="16.6"/><rect x="752" y="437.6" width="5" height="16.6"/><rect x="838" y="38.2" width="5" height="16.2"/><rect x="838" y="71.0" width="5" height="16.6"/><rect x="838" y="104.3" width="5" height="16.6"/><rect x="838" y="137.7" width="5" height="16.6"/><rect x="838" y="171.0" width="5" height="16.6"/><rect x="838" y="204.3" width="5" height="16.6"/><rect x="838" y="237.6" width="5" height="16.6"/><rect x="838" y="271.0" width="5" height="16.6"/><rect x="838" y="304.3" width="5" height="16.6"/><rect x="838" y="337.6" width="5" height="16.6"/><rect x="838" y="371.0" width="5" height="16.6"/><rect x="838" y="404.3" width="5" height="16.6"/><rect x="838" y="437.6" width="5" height="16.6"/><rect x="752" y="38.2" width="19" height="4.6"/><rect x="788" y="38.2" width="17" height="4.6"/><rect x="821" y="38.2" width="22" height="4.6"/><rect x="752" y="450.8" width="19" height="4.5"/><rect x="788" y="450.8" width="17" height="4.5"/><rect x="821" y="450.8" width="22" height="4.5"/></g>
</g>
</svg>
<div id="t" style="position:absolute;left:0;top:0;width:1250px;height:521px;will-change:transform;"><div class="yt" style="top:416.4px"><span style="letter-spacing:-1px">-</span>200</div><div class="yt" style="top:370.2px">0</div><div class="yt" style="top:324.1px">200</div><div class="yt" style="top:278.0px">400</div><div class="yt" style="top:231.9px">600</div><div class="yt" style="top:185.8px">800</div><div class="yt" style="top:139.7px">1000</div><div class="yt" style="top:93.6px">1200</div><div class="yt" style="top:47.5px">1400</div><div class="xt" style="left:165.3px">50</div><div class="xt" style="left:273.0px">100</div><div class="xt" style="left:380.7px">150</div><div class="xt" style="left:488.3px">200</div><div class="xt" style="left:596.0px">250</div><div class="xt" style="left:703.7px">300</div><div class="xt" style="left:811.3px">350</div><div class="xt" style="left:919.0px">400</div><div class="xt" style="left:1026.7px">450</div><div class="xl">Time (ms)</div><div class="yl">Amplitude (MU)</div></div>
</body></html>
